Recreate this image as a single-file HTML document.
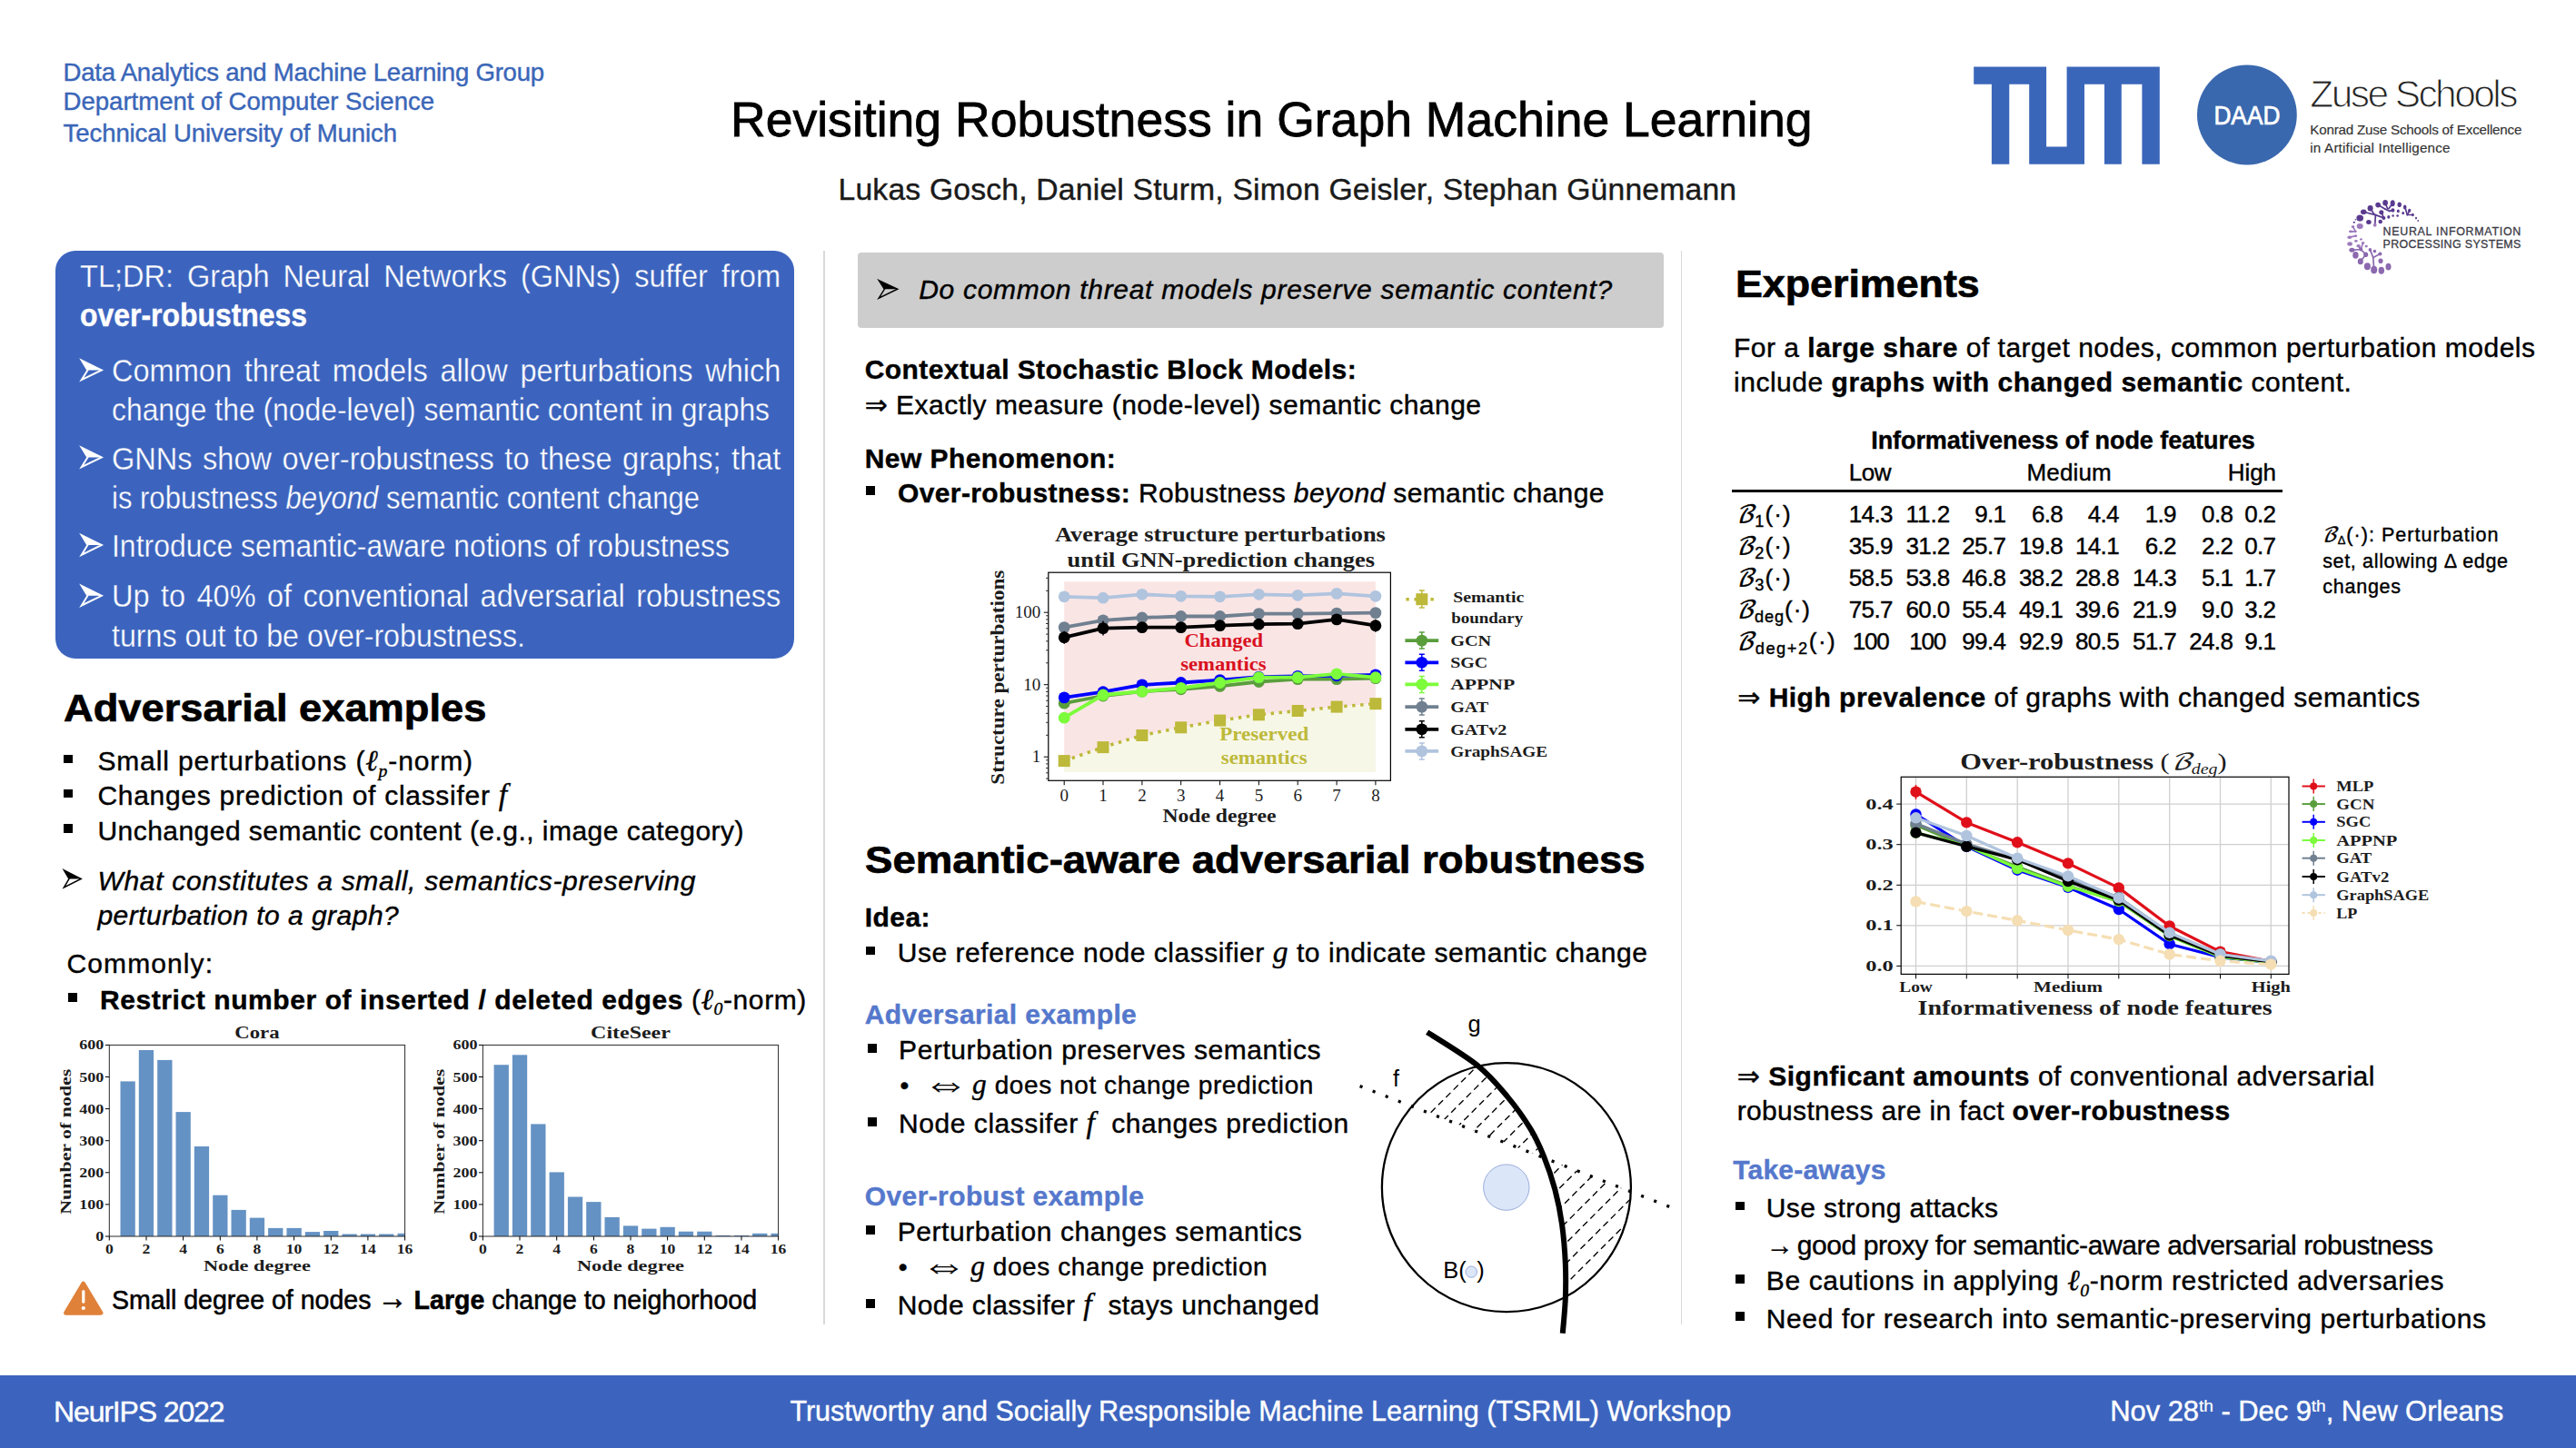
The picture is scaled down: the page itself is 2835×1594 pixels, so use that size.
<!DOCTYPE html>
<html lang="en"><head><meta charset="utf-8">
<title>Revisiting Robustness in Graph Machine Learning</title>
<style>
html,body{margin:0;padding:0;background:#fff}
body{width:2835px;height:1594px;position:relative;overflow:hidden;font-family:"Liberation Sans","DejaVu Sans",sans-serif;}
.t{position:absolute;white-space:nowrap;line-height:1;margin:0;padding:0;-webkit-text-stroke-width:0.4px}
.s{position:absolute}
sub,sup{line-height:0}
.m{font-family:"Liberation Serif","DejaVu Serif",serif;font-style:italic;font-weight:400}
.msub{font-size:66%;vertical-align:baseline;position:relative;top:0.33em}
.cal{font-family:'DejaVu Math TeX Gyre','DejaVu Serif',serif;font-style:italic}
.tsub{font-size:70%;vertical-align:baseline;position:relative;top:0.28em}
.ar{display:inline-block;transform:scale(1.8,1.5);margin:0 -0.03em 0 0.30em;position:relative;top:-0.07em;left:-0.26em;-webkit-text-stroke-width:0.1px}
.ar2{display:inline-block;transform:scale(1.15,1.25);margin:0 0.05em;position:relative;top:-0.1em}
.up{font-size:62%;vertical-align:baseline;position:relative;top:-0.52em;-webkit-text-stroke-width:0.2px}
svg{position:absolute;left:0;top:0}
svg text{font-family:"Liberation Serif","DejaVu Serif",serif;font-weight:700}
</style></head>
<body>
<div class="s" style="left:60.8px;top:276.2px;width:813.0px;height:448.4px;background:#3C64BE;border-radius:22px;"></div>
<div class="s" style="left:906.3px;top:276.2px;width:1.5px;height:1181.5px;background:#D9D9D9;"></div>
<div class="s" style="left:1849.6px;top:276.2px;width:1.5px;height:1181.5px;background:#D9D9D9;"></div>
<div class="s" style="left:0.0px;top:1513.5px;width:2835.0px;height:80.5px;background:#3C64BE;"></div>
<div class="s" style="left:70.0px;top:830.6px;width:9.8px;height:9.8px;background:#000;"></div>
<div class="s" style="left:70.0px;top:868.6px;width:9.8px;height:9.8px;background:#000;"></div>
<div class="s" style="left:70.0px;top:907.2px;width:9.8px;height:9.8px;background:#000;"></div>
<div class="s" style="left:74.9px;top:1093.1px;width:9.8px;height:9.8px;background:#000;"></div>
<div class="s" style="left:944.0px;top:278.2px;width:887.1px;height:82.4px;background:#CDCDCD;border-radius:4px;"></div>
<div class="s" style="left:953.4px;top:535.4px;width:9.8px;height:9.8px;background:#000;"></div>
<div class="s" style="left:953.4px;top:1041.7px;width:9.8px;height:9.8px;background:#000;"></div>
<div class="s" style="left:955.0px;top:1149.0px;width:9.8px;height:9.8px;background:#000;"></div>
<div class="s" style="left:955.0px;top:1230.0px;width:9.8px;height:9.8px;background:#000;"></div>
<div class="s" style="left:953.4px;top:1348.9px;width:9.8px;height:9.8px;background:#000;"></div>
<div class="s" style="left:953.4px;top:1429.9px;width:9.8px;height:9.8px;background:#000;"></div>
<div class="s" style="left:1910.0px;top:1322.6px;width:9.8px;height:9.8px;background:#000;"></div>
<div class="s" style="left:1910.0px;top:1403.0px;width:9.8px;height:9.8px;background:#000;"></div>
<div class="s" style="left:1910.0px;top:1444.1px;width:9.8px;height:9.8px;background:#000;"></div>
<div class="s" style="left:1905.6px;top:539.4px;width:606.4px;height:2.2px;background:#000;"></div>
<svg width="2835" height="1594" viewBox="0 0 2835 1594">
<path d="M89.8 396.6 L111.8 407.4 L89.8 418.1 L96.4 407.4 Z" fill="none" stroke="#fff" stroke-width="2.0" stroke-linejoin="miter"/>
<path d="M89.8 396.6 L111.8 407.4 L96.4 407.4 Z" fill="#fff"/>
<path d="M89.8 492.6 L111.8 503.4 L89.8 514.1 L96.4 503.4 Z" fill="none" stroke="#fff" stroke-width="2.0" stroke-linejoin="miter"/>
<path d="M89.8 492.6 L111.8 503.4 L96.4 503.4 Z" fill="#fff"/>
<path d="M89.8 589.2 L111.8 600.0 L89.8 610.8 L96.4 600.0 Z" fill="none" stroke="#fff" stroke-width="2.0" stroke-linejoin="miter"/>
<path d="M89.8 589.2 L111.8 600.0 L96.4 600.0 Z" fill="#fff"/>
<path d="M89.8 645.0 L111.8 655.8 L89.8 666.5 L96.4 655.8 Z" fill="none" stroke="#fff" stroke-width="2.0" stroke-linejoin="miter"/>
<path d="M89.8 645.0 L111.8 655.8 L96.4 655.8 Z" fill="#fff"/>
<path d="M70.4 957.9 L89.2 967.4 L70.4 976.9 L76.0 967.4 Z" fill="none" stroke="#000" stroke-width="1.5" stroke-linejoin="miter"/>
<path d="M70.4 957.9 L89.2 967.4 L76.0 967.4 Z" fill="#000"/>
<path d="M91.7 1413.2 L110.9 1445.2 L72.6 1445.2 Z" fill="#E0813A" stroke="#E0813A" stroke-width="5" stroke-linejoin="round"/>
<rect x="90.2" y="1420.2" width="3.2" height="14.5" rx="1.4" fill="#fff"/><circle cx="91.8" cy="1440" r="2.1" fill="#fff"/>
<path d="M967.2 308.6 L987.7 318.3 L967.2 328.1 L973.4 318.3 Z" fill="none" stroke="#000" stroke-width="1.5" stroke-linejoin="miter"/>
<path d="M967.2 308.6 L987.7 318.3 L973.4 318.3 Z" fill="#000"/>
<clipPath id="cp120"><rect x="120.3" y="1150.4" width="325.3" height="210.6"/></clipPath>
<g clip-path="url(#cp120)" fill="#6592C4">
<rect x="132.5" y="1190.4" width="16.3" height="170.6"/>
<rect x="152.8" y="1156.0" width="16.3" height="205.0"/>
<rect x="173.2" y="1166.9" width="16.3" height="194.1"/>
<rect x="193.5" y="1224.1" width="16.3" height="136.9"/>
<rect x="213.8" y="1262.0" width="16.3" height="99.0"/>
<rect x="234.2" y="1315.7" width="16.3" height="45.3"/>
<rect x="254.5" y="1331.9" width="16.3" height="29.1"/>
<rect x="274.8" y="1340.6" width="16.3" height="20.4"/>
<rect x="295.1" y="1351.9" width="16.3" height="9.1"/>
<rect x="315.5" y="1351.9" width="16.3" height="9.1"/>
<rect x="335.8" y="1356.1" width="16.3" height="4.9"/>
<rect x="356.1" y="1355.0" width="16.3" height="6.0"/>
<rect x="376.5" y="1358.5" width="16.3" height="2.5"/>
<rect x="396.8" y="1358.5" width="16.3" height="2.5"/>
<rect x="417.1" y="1358.5" width="16.3" height="2.5"/>
<rect x="437.5" y="1357.8" width="16.3" height="3.2"/>
</g>
<rect x="120.3" y="1150.4" width="325.3" height="210.6" fill="none" stroke="#2a2a2a" stroke-width="1"/>
<line x1="120.3" y1="1361.0" x2="120.3" y2="1365.5" stroke="#000" stroke-width="1"/>
<text x="120.3" y="1379.5" font-size="14.5" text-anchor="middle" fill="#1c1c1c" textLength="8.8" lengthAdjust="spacingAndGlyphs">0</text>
<line x1="161.0" y1="1361.0" x2="161.0" y2="1365.5" stroke="#000" stroke-width="1"/>
<text x="161.0" y="1379.5" font-size="14.5" text-anchor="middle" fill="#1c1c1c" textLength="8.8" lengthAdjust="spacingAndGlyphs">2</text>
<line x1="201.6" y1="1361.0" x2="201.6" y2="1365.5" stroke="#000" stroke-width="1"/>
<text x="201.6" y="1379.5" font-size="14.5" text-anchor="middle" fill="#1c1c1c" textLength="8.8" lengthAdjust="spacingAndGlyphs">4</text>
<line x1="242.3" y1="1361.0" x2="242.3" y2="1365.5" stroke="#000" stroke-width="1"/>
<text x="242.3" y="1379.5" font-size="14.5" text-anchor="middle" fill="#1c1c1c" textLength="8.8" lengthAdjust="spacingAndGlyphs">6</text>
<line x1="282.9" y1="1361.0" x2="282.9" y2="1365.5" stroke="#000" stroke-width="1"/>
<text x="282.9" y="1379.5" font-size="14.5" text-anchor="middle" fill="#1c1c1c" textLength="8.8" lengthAdjust="spacingAndGlyphs">8</text>
<line x1="323.6" y1="1361.0" x2="323.6" y2="1365.5" stroke="#000" stroke-width="1"/>
<text x="323.6" y="1379.5" font-size="14.5" text-anchor="middle" fill="#1c1c1c" textLength="17.6" lengthAdjust="spacingAndGlyphs">10</text>
<line x1="364.3" y1="1361.0" x2="364.3" y2="1365.5" stroke="#000" stroke-width="1"/>
<text x="364.3" y="1379.5" font-size="14.5" text-anchor="middle" fill="#1c1c1c" textLength="17.6" lengthAdjust="spacingAndGlyphs">12</text>
<line x1="404.9" y1="1361.0" x2="404.9" y2="1365.5" stroke="#000" stroke-width="1"/>
<text x="404.9" y="1379.5" font-size="14.5" text-anchor="middle" fill="#1c1c1c" textLength="17.6" lengthAdjust="spacingAndGlyphs">14</text>
<line x1="445.6" y1="1361.0" x2="445.6" y2="1365.5" stroke="#000" stroke-width="1"/>
<text x="445.6" y="1379.5" font-size="14.5" text-anchor="middle" fill="#1c1c1c" textLength="17.6" lengthAdjust="spacingAndGlyphs">16</text>
<line x1="115.8" y1="1361.0" x2="120.3" y2="1361.0" stroke="#000" stroke-width="1"/>
<text x="114.3" y="1366.0" font-size="14.5" text-anchor="end" fill="#1c1c1c" textLength="9.0" lengthAdjust="spacingAndGlyphs">0</text>
<line x1="115.8" y1="1325.9" x2="120.3" y2="1325.9" stroke="#000" stroke-width="1"/>
<text x="114.3" y="1330.9" font-size="14.5" text-anchor="end" fill="#1c1c1c" textLength="27.0" lengthAdjust="spacingAndGlyphs">100</text>
<line x1="115.8" y1="1290.8" x2="120.3" y2="1290.8" stroke="#000" stroke-width="1"/>
<text x="114.3" y="1295.8" font-size="14.5" text-anchor="end" fill="#1c1c1c" textLength="27.0" lengthAdjust="spacingAndGlyphs">200</text>
<line x1="115.8" y1="1255.7" x2="120.3" y2="1255.7" stroke="#000" stroke-width="1"/>
<text x="114.3" y="1260.7" font-size="14.5" text-anchor="end" fill="#1c1c1c" textLength="27.0" lengthAdjust="spacingAndGlyphs">300</text>
<line x1="115.8" y1="1220.6" x2="120.3" y2="1220.6" stroke="#000" stroke-width="1"/>
<text x="114.3" y="1225.6" font-size="14.5" text-anchor="end" fill="#1c1c1c" textLength="27.0" lengthAdjust="spacingAndGlyphs">400</text>
<line x1="115.8" y1="1185.5" x2="120.3" y2="1185.5" stroke="#000" stroke-width="1"/>
<text x="114.3" y="1190.5" font-size="14.5" text-anchor="end" fill="#1c1c1c" textLength="27.0" lengthAdjust="spacingAndGlyphs">500</text>
<line x1="115.8" y1="1150.4" x2="120.3" y2="1150.4" stroke="#000" stroke-width="1"/>
<text x="114.3" y="1155.4" font-size="14.5" text-anchor="end" fill="#1c1c1c" textLength="27.0" lengthAdjust="spacingAndGlyphs">600</text>
<text x="282.9" y="1142.5" font-size="18.5" text-anchor="middle" fill="#1c1c1c" textLength="49.4" lengthAdjust="spacingAndGlyphs">Cora</text>
<text x="282.9" y="1399.3" font-size="17.5" text-anchor="middle" fill="#1c1c1c" textLength="118" lengthAdjust="spacingAndGlyphs">Node degree</text>
<text transform="translate(77.5 1256.7) rotate(-90)" font-size="17.5" text-anchor="middle" fill="#1c1c1c" textLength="160" lengthAdjust="spacingAndGlyphs">Number of nodes</text>
<clipPath id="cp531"><rect x="531.4" y="1150.4" width="325.2" height="210.6"/></clipPath>
<g clip-path="url(#cp531)" fill="#6592C4">
<rect x="543.6" y="1172.2" width="16.3" height="188.8"/>
<rect x="563.9" y="1161.3" width="16.3" height="199.7"/>
<rect x="584.2" y="1237.4" width="16.3" height="123.6"/>
<rect x="604.6" y="1290.4" width="16.3" height="70.6"/>
<rect x="624.9" y="1317.5" width="16.3" height="43.5"/>
<rect x="645.2" y="1323.1" width="16.3" height="37.9"/>
<rect x="665.5" y="1339.9" width="16.3" height="21.1"/>
<rect x="685.9" y="1349.4" width="16.3" height="11.6"/>
<rect x="706.2" y="1352.6" width="16.3" height="8.4"/>
<rect x="726.5" y="1350.8" width="16.3" height="10.2"/>
<rect x="746.8" y="1355.7" width="16.3" height="5.3"/>
<rect x="767.2" y="1355.7" width="16.3" height="5.3"/>
<rect x="787.5" y="1359.9" width="16.3" height="1.1"/>
<rect x="807.8" y="1359.9" width="16.3" height="1.1"/>
<rect x="828.1" y="1357.8" width="16.3" height="3.2"/>
<rect x="848.5" y="1357.8" width="16.3" height="3.2"/>
</g>
<rect x="531.4" y="1150.4" width="325.2" height="210.6" fill="none" stroke="#2a2a2a" stroke-width="1"/>
<line x1="531.4" y1="1361.0" x2="531.4" y2="1365.5" stroke="#000" stroke-width="1"/>
<text x="531.4" y="1379.5" font-size="14.5" text-anchor="middle" fill="#1c1c1c" textLength="8.8" lengthAdjust="spacingAndGlyphs">0</text>
<line x1="572.0" y1="1361.0" x2="572.0" y2="1365.5" stroke="#000" stroke-width="1"/>
<text x="572.0" y="1379.5" font-size="14.5" text-anchor="middle" fill="#1c1c1c" textLength="8.8" lengthAdjust="spacingAndGlyphs">2</text>
<line x1="612.7" y1="1361.0" x2="612.7" y2="1365.5" stroke="#000" stroke-width="1"/>
<text x="612.7" y="1379.5" font-size="14.5" text-anchor="middle" fill="#1c1c1c" textLength="8.8" lengthAdjust="spacingAndGlyphs">4</text>
<line x1="653.4" y1="1361.0" x2="653.4" y2="1365.5" stroke="#000" stroke-width="1"/>
<text x="653.4" y="1379.5" font-size="14.5" text-anchor="middle" fill="#1c1c1c" textLength="8.8" lengthAdjust="spacingAndGlyphs">6</text>
<line x1="694.0" y1="1361.0" x2="694.0" y2="1365.5" stroke="#000" stroke-width="1"/>
<text x="694.0" y="1379.5" font-size="14.5" text-anchor="middle" fill="#1c1c1c" textLength="8.8" lengthAdjust="spacingAndGlyphs">8</text>
<line x1="734.6" y1="1361.0" x2="734.6" y2="1365.5" stroke="#000" stroke-width="1"/>
<text x="734.6" y="1379.5" font-size="14.5" text-anchor="middle" fill="#1c1c1c" textLength="17.6" lengthAdjust="spacingAndGlyphs">10</text>
<line x1="775.3" y1="1361.0" x2="775.3" y2="1365.5" stroke="#000" stroke-width="1"/>
<text x="775.3" y="1379.5" font-size="14.5" text-anchor="middle" fill="#1c1c1c" textLength="17.6" lengthAdjust="spacingAndGlyphs">12</text>
<line x1="816.0" y1="1361.0" x2="816.0" y2="1365.5" stroke="#000" stroke-width="1"/>
<text x="816.0" y="1379.5" font-size="14.5" text-anchor="middle" fill="#1c1c1c" textLength="17.6" lengthAdjust="spacingAndGlyphs">14</text>
<line x1="856.6" y1="1361.0" x2="856.6" y2="1365.5" stroke="#000" stroke-width="1"/>
<text x="856.6" y="1379.5" font-size="14.5" text-anchor="middle" fill="#1c1c1c" textLength="17.6" lengthAdjust="spacingAndGlyphs">16</text>
<line x1="526.9" y1="1361.0" x2="531.4" y2="1361.0" stroke="#000" stroke-width="1"/>
<text x="525.4" y="1366.0" font-size="14.5" text-anchor="end" fill="#1c1c1c" textLength="9.0" lengthAdjust="spacingAndGlyphs">0</text>
<line x1="526.9" y1="1325.9" x2="531.4" y2="1325.9" stroke="#000" stroke-width="1"/>
<text x="525.4" y="1330.9" font-size="14.5" text-anchor="end" fill="#1c1c1c" textLength="27.0" lengthAdjust="spacingAndGlyphs">100</text>
<line x1="526.9" y1="1290.8" x2="531.4" y2="1290.8" stroke="#000" stroke-width="1"/>
<text x="525.4" y="1295.8" font-size="14.5" text-anchor="end" fill="#1c1c1c" textLength="27.0" lengthAdjust="spacingAndGlyphs">200</text>
<line x1="526.9" y1="1255.7" x2="531.4" y2="1255.7" stroke="#000" stroke-width="1"/>
<text x="525.4" y="1260.7" font-size="14.5" text-anchor="end" fill="#1c1c1c" textLength="27.0" lengthAdjust="spacingAndGlyphs">300</text>
<line x1="526.9" y1="1220.6" x2="531.4" y2="1220.6" stroke="#000" stroke-width="1"/>
<text x="525.4" y="1225.6" font-size="14.5" text-anchor="end" fill="#1c1c1c" textLength="27.0" lengthAdjust="spacingAndGlyphs">400</text>
<line x1="526.9" y1="1185.5" x2="531.4" y2="1185.5" stroke="#000" stroke-width="1"/>
<text x="525.4" y="1190.5" font-size="14.5" text-anchor="end" fill="#1c1c1c" textLength="27.0" lengthAdjust="spacingAndGlyphs">500</text>
<line x1="526.9" y1="1150.4" x2="531.4" y2="1150.4" stroke="#000" stroke-width="1"/>
<text x="525.4" y="1155.4" font-size="14.5" text-anchor="end" fill="#1c1c1c" textLength="27.0" lengthAdjust="spacingAndGlyphs">600</text>
<text x="694.0" y="1142.5" font-size="18.5" text-anchor="middle" fill="#1c1c1c" textLength="87.8" lengthAdjust="spacingAndGlyphs">CiteSeer</text>
<text x="694.0" y="1399.3" font-size="17.5" text-anchor="middle" fill="#1c1c1c" textLength="118" lengthAdjust="spacingAndGlyphs">Node degree</text>
<text transform="translate(488.5 1256.7) rotate(-90)" font-size="17.5" text-anchor="middle" fill="#1c1c1c" textLength="160" lengthAdjust="spacingAndGlyphs">Number of nodes</text>
<polygon points="1171.2,640.3 1513.9,640.3 1513.9,774.7 1471.1,778.1 1428.2,782.5 1385.4,786.8 1342.6,793.1 1299.7,800.8 1256.9,809.5 1214.0,822.6 1171.2,837.6" fill="#FAE5E5"/>
<polygon points="1171.2,850.1 1513.9,850.1 1513.9,774.7 1471.1,778.1 1428.2,782.5 1385.4,786.8 1342.6,793.1 1299.7,800.8 1256.9,809.5 1214.0,822.6 1171.2,837.6" fill="#F7F7E7"/>
<polyline points="1171.2,837.6 1214.0,822.6 1256.9,809.5 1299.7,800.8 1342.6,793.1 1385.4,786.8 1428.2,782.5 1471.1,778.1 1513.9,774.7" fill="none" stroke="#BDB93A" stroke-width="3.6" stroke-dasharray="3.4 5.6"/>
<rect x="1164.7" y="831.1" width="13" height="13" fill="#BDB93A"/>
<rect x="1207.5" y="816.1" width="13" height="13" fill="#BDB93A"/>
<rect x="1250.4" y="803.0" width="13" height="13" fill="#BDB93A"/>
<rect x="1293.2" y="794.3" width="13" height="13" fill="#BDB93A"/>
<rect x="1336.1" y="786.6" width="13" height="13" fill="#BDB93A"/>
<rect x="1378.9" y="780.3" width="13" height="13" fill="#BDB93A"/>
<rect x="1421.7" y="776.0" width="13" height="13" fill="#BDB93A"/>
<rect x="1464.6" y="771.6" width="13" height="13" fill="#BDB93A"/>
<rect x="1507.4" y="768.2" width="13" height="13" fill="#BDB93A"/>
<text x="1346.8" y="712.4" font-size="21" text-anchor="middle" fill="#D9111F" textLength="86.5" lengthAdjust="spacingAndGlyphs">Changed</text>
<text x="1346.4" y="738.0" font-size="21" text-anchor="middle" fill="#D9111F" textLength="94.4" lengthAdjust="spacingAndGlyphs">semantics</text>
<text x="1391.2" y="815.3" font-size="21" text-anchor="middle" fill="#BDB93A" textLength="98" lengthAdjust="spacingAndGlyphs">Preserved</text>
<text x="1391.2" y="841.0" font-size="21" text-anchor="middle" fill="#BDB93A" textLength="94.7" lengthAdjust="spacingAndGlyphs">semantics</text>
<polyline points="1171.2,656.8 1214.0,658.2 1256.9,654.3 1299.7,656.3 1342.6,656.8 1385.4,654.3 1428.2,655.3 1471.1,653.4 1513.9,656.3" fill="none" stroke="#B0C4DE" stroke-width="3.8" stroke-linejoin="round"/>
<circle cx="1171.2" cy="656.8" r="6.4" fill="#B0C4DE"/>
<circle cx="1214.0" cy="658.2" r="6.4" fill="#B0C4DE"/>
<circle cx="1256.9" cy="654.3" r="6.4" fill="#B0C4DE"/>
<circle cx="1299.7" cy="656.3" r="6.4" fill="#B0C4DE"/>
<circle cx="1342.6" cy="656.8" r="6.4" fill="#B0C4DE"/>
<circle cx="1385.4" cy="654.3" r="6.4" fill="#B0C4DE"/>
<circle cx="1428.2" cy="655.3" r="6.4" fill="#B0C4DE"/>
<circle cx="1471.1" cy="653.4" r="6.4" fill="#B0C4DE"/>
<circle cx="1513.9" cy="656.3" r="6.4" fill="#B0C4DE"/>
<polyline points="1171.2,690.6 1214.0,682.9 1256.9,680.0 1299.7,678.5 1342.6,678.5 1385.4,675.6 1428.2,675.6 1471.1,675.1 1513.9,674.6" fill="none" stroke="#708090" stroke-width="3.8" stroke-linejoin="round"/>
<circle cx="1171.2" cy="690.6" r="6.4" fill="#708090"/>
<circle cx="1214.0" cy="682.9" r="6.4" fill="#708090"/>
<circle cx="1256.9" cy="680.0" r="6.4" fill="#708090"/>
<circle cx="1299.7" cy="678.5" r="6.4" fill="#708090"/>
<circle cx="1342.6" cy="678.5" r="6.4" fill="#708090"/>
<circle cx="1385.4" cy="675.6" r="6.4" fill="#708090"/>
<circle cx="1428.2" cy="675.6" r="6.4" fill="#708090"/>
<circle cx="1471.1" cy="675.1" r="6.4" fill="#708090"/>
<circle cx="1513.9" cy="674.6" r="6.4" fill="#708090"/>
<polyline points="1171.2,701.7 1214.0,691.6 1256.9,690.6 1299.7,690.6 1342.6,688.7 1385.4,687.2 1428.2,686.7 1471.1,681.9 1513.9,688.7" fill="none" stroke="#000000" stroke-width="3.8" stroke-linejoin="round"/>
<circle cx="1171.2" cy="701.7" r="6.4" fill="#000000"/>
<circle cx="1214.0" cy="691.6" r="6.4" fill="#000000"/>
<circle cx="1256.9" cy="690.6" r="6.4" fill="#000000"/>
<circle cx="1299.7" cy="690.6" r="6.4" fill="#000000"/>
<circle cx="1342.6" cy="688.7" r="6.4" fill="#000000"/>
<circle cx="1385.4" cy="687.2" r="6.4" fill="#000000"/>
<circle cx="1428.2" cy="686.7" r="6.4" fill="#000000"/>
<circle cx="1471.1" cy="681.9" r="6.4" fill="#000000"/>
<circle cx="1513.9" cy="688.7" r="6.4" fill="#000000"/>
<polyline points="1171.2,774.2 1214.0,766.0 1256.9,761.2 1299.7,758.8 1342.6,755.4 1385.4,750.5 1428.2,747.6 1471.1,747.6 1513.9,746.7" fill="none" stroke="#5A9E3C" stroke-width="3.8" stroke-linejoin="round"/>
<circle cx="1171.2" cy="774.2" r="6.4" fill="#5A9E3C"/>
<circle cx="1214.0" cy="766.0" r="6.4" fill="#5A9E3C"/>
<circle cx="1256.9" cy="761.2" r="6.4" fill="#5A9E3C"/>
<circle cx="1299.7" cy="758.8" r="6.4" fill="#5A9E3C"/>
<circle cx="1342.6" cy="755.4" r="6.4" fill="#5A9E3C"/>
<circle cx="1385.4" cy="750.5" r="6.4" fill="#5A9E3C"/>
<circle cx="1428.2" cy="747.6" r="6.4" fill="#5A9E3C"/>
<circle cx="1471.1" cy="747.6" r="6.4" fill="#5A9E3C"/>
<circle cx="1513.9" cy="746.7" r="6.4" fill="#5A9E3C"/>
<polyline points="1171.2,767.9 1214.0,761.7 1256.9,753.9 1299.7,751.5 1342.6,748.6 1385.4,745.2 1428.2,744.3 1471.1,743.8 1513.9,742.8" fill="none" stroke="#0000FF" stroke-width="3.8" stroke-linejoin="round"/>
<circle cx="1171.2" cy="767.9" r="6.4" fill="#0000FF"/>
<circle cx="1214.0" cy="761.7" r="6.4" fill="#0000FF"/>
<circle cx="1256.9" cy="753.9" r="6.4" fill="#0000FF"/>
<circle cx="1299.7" cy="751.5" r="6.4" fill="#0000FF"/>
<circle cx="1342.6" cy="748.6" r="6.4" fill="#0000FF"/>
<circle cx="1385.4" cy="745.2" r="6.4" fill="#0000FF"/>
<circle cx="1428.2" cy="744.3" r="6.4" fill="#0000FF"/>
<circle cx="1471.1" cy="743.8" r="6.4" fill="#0000FF"/>
<circle cx="1513.9" cy="742.8" r="6.4" fill="#0000FF"/>
<polyline points="1171.2,790.2 1214.0,765.0 1256.9,761.2 1299.7,757.3 1342.6,751.5 1385.4,745.7 1428.2,745.7 1471.1,741.8 1513.9,745.7" fill="none" stroke="#7CFC3A" stroke-width="3.8" stroke-linejoin="round"/>
<circle cx="1171.2" cy="790.2" r="6.4" fill="#7CFC3A"/>
<circle cx="1214.0" cy="765.0" r="6.4" fill="#7CFC3A"/>
<circle cx="1256.9" cy="761.2" r="6.4" fill="#7CFC3A"/>
<circle cx="1299.7" cy="757.3" r="6.4" fill="#7CFC3A"/>
<circle cx="1342.6" cy="751.5" r="6.4" fill="#7CFC3A"/>
<circle cx="1385.4" cy="745.7" r="6.4" fill="#7CFC3A"/>
<circle cx="1428.2" cy="745.7" r="6.4" fill="#7CFC3A"/>
<circle cx="1471.1" cy="741.8" r="6.4" fill="#7CFC3A"/>
<circle cx="1513.9" cy="745.7" r="6.4" fill="#7CFC3A"/>
<line x1="1171.2" y1="694.7" x2="1171.2" y2="708.7" stroke="#000" stroke-width="1.5"/>
<line x1="1214.0" y1="683.6" x2="1214.0" y2="699.6" stroke="#000" stroke-width="1.5"/>
<line x1="1471.1" y1="675.9" x2="1471.1" y2="687.9" stroke="#000" stroke-width="1.5"/>
<line x1="1513.9" y1="681.7" x2="1513.9" y2="695.7" stroke="#000" stroke-width="1.5"/>
<line x1="1428.2" y1="681.7" x2="1428.2" y2="691.7" stroke="#000" stroke-width="1.5"/>
<rect x="1153.8" y="630.2" width="376.6" height="229.1" fill="none" stroke="#000" stroke-width="1.2"/>
<line x1="1171.2" y1="859.3" x2="1171.2" y2="864.3" stroke="#000" stroke-width="1"/>
<text x="1171.2" y="882.0" font-size="19" text-anchor="middle" fill="#1c1c1c" style="font-weight:400">0</text>
<line x1="1214.0" y1="859.3" x2="1214.0" y2="864.3" stroke="#000" stroke-width="1"/>
<text x="1214.0" y="882.0" font-size="19" text-anchor="middle" fill="#1c1c1c" style="font-weight:400">1</text>
<line x1="1256.9" y1="859.3" x2="1256.9" y2="864.3" stroke="#000" stroke-width="1"/>
<text x="1256.9" y="882.0" font-size="19" text-anchor="middle" fill="#1c1c1c" style="font-weight:400">2</text>
<line x1="1299.7" y1="859.3" x2="1299.7" y2="864.3" stroke="#000" stroke-width="1"/>
<text x="1299.7" y="882.0" font-size="19" text-anchor="middle" fill="#1c1c1c" style="font-weight:400">3</text>
<line x1="1342.6" y1="859.3" x2="1342.6" y2="864.3" stroke="#000" stroke-width="1"/>
<text x="1342.6" y="882.0" font-size="19" text-anchor="middle" fill="#1c1c1c" style="font-weight:400">4</text>
<line x1="1385.4" y1="859.3" x2="1385.4" y2="864.3" stroke="#000" stroke-width="1"/>
<text x="1385.4" y="882.0" font-size="19" text-anchor="middle" fill="#1c1c1c" style="font-weight:400">5</text>
<line x1="1428.2" y1="859.3" x2="1428.2" y2="864.3" stroke="#000" stroke-width="1"/>
<text x="1428.2" y="882.0" font-size="19" text-anchor="middle" fill="#1c1c1c" style="font-weight:400">6</text>
<line x1="1471.1" y1="859.3" x2="1471.1" y2="864.3" stroke="#000" stroke-width="1"/>
<text x="1471.1" y="882.0" font-size="19" text-anchor="middle" fill="#1c1c1c" style="font-weight:400">7</text>
<line x1="1513.9" y1="859.3" x2="1513.9" y2="864.3" stroke="#000" stroke-width="1"/>
<text x="1513.9" y="882.0" font-size="19" text-anchor="middle" fill="#1c1c1c" style="font-weight:400">8</text>
<line x1="1148.8" y1="833.2" x2="1153.8" y2="833.2" stroke="#000" stroke-width="1"/>
<text x="1145.3" y="839.4" font-size="19" text-anchor="end" fill="#1c1c1c" style="font-weight:400">1</text>
<line x1="1148.8" y1="753.7" x2="1153.8" y2="753.7" stroke="#000" stroke-width="1"/>
<text x="1145.3" y="759.9" font-size="19" text-anchor="end" fill="#1c1c1c" style="font-weight:400">10</text>
<line x1="1148.8" y1="674.2" x2="1153.8" y2="674.2" stroke="#000" stroke-width="1"/>
<text x="1145.3" y="680.4" font-size="19" text-anchor="end" fill="#1c1c1c" style="font-weight:400">100</text>
<line x1="1151.0" y1="857.1" x2="1153.8" y2="857.1" stroke="#000" stroke-width="0.8"/>
<line x1="1151.0" y1="850.8" x2="1153.8" y2="850.8" stroke="#000" stroke-width="0.8"/>
<line x1="1151.0" y1="845.5" x2="1153.8" y2="845.5" stroke="#000" stroke-width="0.8"/>
<line x1="1151.0" y1="840.9" x2="1153.8" y2="840.9" stroke="#000" stroke-width="0.8"/>
<line x1="1151.0" y1="836.8" x2="1153.8" y2="836.8" stroke="#000" stroke-width="0.8"/>
<line x1="1151.0" y1="809.3" x2="1153.8" y2="809.3" stroke="#000" stroke-width="0.8"/>
<line x1="1151.0" y1="795.3" x2="1153.8" y2="795.3" stroke="#000" stroke-width="0.8"/>
<line x1="1151.0" y1="785.3" x2="1153.8" y2="785.3" stroke="#000" stroke-width="0.8"/>
<line x1="1151.0" y1="777.6" x2="1153.8" y2="777.6" stroke="#000" stroke-width="0.8"/>
<line x1="1151.0" y1="771.3" x2="1153.8" y2="771.3" stroke="#000" stroke-width="0.8"/>
<line x1="1151.0" y1="766.0" x2="1153.8" y2="766.0" stroke="#000" stroke-width="0.8"/>
<line x1="1151.0" y1="761.4" x2="1153.8" y2="761.4" stroke="#000" stroke-width="0.8"/>
<line x1="1151.0" y1="757.3" x2="1153.8" y2="757.3" stroke="#000" stroke-width="0.8"/>
<line x1="1151.0" y1="729.8" x2="1153.8" y2="729.8" stroke="#000" stroke-width="0.8"/>
<line x1="1151.0" y1="715.8" x2="1153.8" y2="715.8" stroke="#000" stroke-width="0.8"/>
<line x1="1151.0" y1="705.8" x2="1153.8" y2="705.8" stroke="#000" stroke-width="0.8"/>
<line x1="1151.0" y1="698.1" x2="1153.8" y2="698.1" stroke="#000" stroke-width="0.8"/>
<line x1="1151.0" y1="691.8" x2="1153.8" y2="691.8" stroke="#000" stroke-width="0.8"/>
<line x1="1151.0" y1="686.5" x2="1153.8" y2="686.5" stroke="#000" stroke-width="0.8"/>
<line x1="1151.0" y1="681.9" x2="1153.8" y2="681.9" stroke="#000" stroke-width="0.8"/>
<line x1="1151.0" y1="677.8" x2="1153.8" y2="677.8" stroke="#000" stroke-width="0.8"/>
<line x1="1151.0" y1="650.3" x2="1153.8" y2="650.3" stroke="#000" stroke-width="0.8"/>
<line x1="1151.0" y1="636.3" x2="1153.8" y2="636.3" stroke="#000" stroke-width="0.8"/>
<text x="1342.9" y="596.3" font-size="22.5" text-anchor="middle" fill="#1c1c1c" textLength="364" lengthAdjust="spacingAndGlyphs">Average structure perturbations</text>
<text x="1343.8" y="624.4" font-size="22.5" text-anchor="middle" fill="#1c1c1c" textLength="338.5" lengthAdjust="spacingAndGlyphs">until GNN-prediction changes</text>
<text x="1341.9" y="904.8" font-size="21" text-anchor="middle" fill="#1c1c1c" textLength="125" lengthAdjust="spacingAndGlyphs">Node degree</text>
<text transform="translate(1104.5 745.7) rotate(-90)" font-size="21" text-anchor="middle" fill="#1c1c1c" textLength="236" lengthAdjust="spacingAndGlyphs">Structure perturbations</text>
<line x1="1547.4" y1="659.7" x2="1583.2" y2="659.7" stroke="#BDB93A" stroke-width="3.6" stroke-dasharray="3.4 5.6"/>
<rect x="1558.3" y="653.2" width="13" height="13" fill="#BDB93A"/>
<path d="M1564.8 650 v19 M1561.8 650 h6 M1561.8 669 h6" stroke="#BDB93A" stroke-width="1.5"/>
<text x="1599.2" y="663.2" font-size="17" text-anchor="start" fill="#1c1c1c" textLength="78" lengthAdjust="spacingAndGlyphs">Semantic</text>
<text x="1597.2" y="685.6" font-size="17" text-anchor="start" fill="#1c1c1c" textLength="79" lengthAdjust="spacingAndGlyphs">boundary</text>
<line x1="1546.4" y1="705.1" x2="1583.2" y2="705.1" stroke="#5A9E3C" stroke-width="3.8"/>
<path d="M1561.8 696.1 h6 M1561.8 714.1 h6" stroke="#5A9E3C" stroke-width="1.5"/>
<line x1="1564.8" y1="696.1" x2="1564.8" y2="714.1" stroke="#5A9E3C" stroke-width="1.5"/>
<circle cx="1564.8" cy="705.1" r="6.4" fill="#5A9E3C"/>
<text x="1596.2" y="710.9" font-size="17" text-anchor="start" fill="#1c1c1c" textLength="45" lengthAdjust="spacingAndGlyphs">GCN</text>
<line x1="1546.4" y1="729.3" x2="1583.2" y2="729.3" stroke="#0000FF" stroke-width="3.8"/>
<path d="M1561.8 720.3 h6 M1561.8 738.3 h6" stroke="#0000FF" stroke-width="1.5"/>
<line x1="1564.8" y1="720.3" x2="1564.8" y2="738.3" stroke="#0000FF" stroke-width="1.5"/>
<circle cx="1564.8" cy="729.3" r="6.4" fill="#0000FF"/>
<text x="1596.2" y="735.1" font-size="17" text-anchor="start" fill="#1c1c1c" textLength="41" lengthAdjust="spacingAndGlyphs">SGC</text>
<line x1="1546.4" y1="753.4" x2="1583.2" y2="753.4" stroke="#7CFC3A" stroke-width="3.8"/>
<path d="M1561.8 744.4 h6 M1561.8 762.4 h6" stroke="#7CFC3A" stroke-width="1.5"/>
<line x1="1564.8" y1="744.4" x2="1564.8" y2="762.4" stroke="#7CFC3A" stroke-width="1.5"/>
<circle cx="1564.8" cy="753.4" r="6.4" fill="#7CFC3A"/>
<text x="1596.2" y="759.2" font-size="17" text-anchor="start" fill="#1c1c1c" textLength="71" lengthAdjust="spacingAndGlyphs">APPNP</text>
<line x1="1546.4" y1="778.1" x2="1583.2" y2="778.1" stroke="#708090" stroke-width="3.8"/>
<path d="M1561.8 769.1 h6 M1561.8 787.1 h6" stroke="#708090" stroke-width="1.5"/>
<line x1="1564.8" y1="769.1" x2="1564.8" y2="787.1" stroke="#708090" stroke-width="1.5"/>
<circle cx="1564.8" cy="778.1" r="6.4" fill="#708090"/>
<text x="1596.2" y="783.9" font-size="17" text-anchor="start" fill="#1c1c1c" textLength="42" lengthAdjust="spacingAndGlyphs">GAT</text>
<line x1="1546.4" y1="802.8" x2="1583.2" y2="802.8" stroke="#000000" stroke-width="3.8"/>
<path d="M1561.8 793.8 h6 M1561.8 811.8 h6" stroke="#000000" stroke-width="1.5"/>
<line x1="1564.8" y1="793.8" x2="1564.8" y2="811.8" stroke="#000000" stroke-width="1.5"/>
<circle cx="1564.8" cy="802.8" r="6.4" fill="#000000"/>
<text x="1596.2" y="808.6" font-size="17" text-anchor="start" fill="#1c1c1c" textLength="62" lengthAdjust="spacingAndGlyphs">GATv2</text>
<line x1="1546.4" y1="826.9" x2="1583.2" y2="826.9" stroke="#B0C4DE" stroke-width="3.8"/>
<path d="M1561.8 817.9 h6 M1561.8 835.9 h6" stroke="#B0C4DE" stroke-width="1.5"/>
<line x1="1564.8" y1="817.9" x2="1564.8" y2="835.9" stroke="#B0C4DE" stroke-width="1.5"/>
<circle cx="1564.8" cy="826.9" r="6.4" fill="#B0C4DE"/>
<text x="1596.2" y="832.7" font-size="17" text-anchor="start" fill="#1c1c1c" textLength="107" lengthAdjust="spacingAndGlyphs">GraphSAGE</text>
<line x1="2108.5" y1="855.3" x2="2108.5" y2="1072.4" stroke="#CFCFCF" stroke-width="1.3"/>
<line x1="2164.3" y1="855.3" x2="2164.3" y2="1072.4" stroke="#CFCFCF" stroke-width="1.3"/>
<line x1="2220.2" y1="855.3" x2="2220.2" y2="1072.4" stroke="#CFCFCF" stroke-width="1.3"/>
<line x1="2276.0" y1="855.3" x2="2276.0" y2="1072.4" stroke="#CFCFCF" stroke-width="1.3"/>
<line x1="2331.8" y1="855.3" x2="2331.8" y2="1072.4" stroke="#CFCFCF" stroke-width="1.3"/>
<line x1="2387.7" y1="855.3" x2="2387.7" y2="1072.4" stroke="#CFCFCF" stroke-width="1.3"/>
<line x1="2443.5" y1="855.3" x2="2443.5" y2="1072.4" stroke="#CFCFCF" stroke-width="1.3"/>
<line x1="2499.3" y1="855.3" x2="2499.3" y2="1072.4" stroke="#CFCFCF" stroke-width="1.3"/>
<line x1="2092.2" y1="1063.4" x2="2519.0" y2="1063.4" stroke="#CFCFCF" stroke-width="1.3"/>
<line x1="2092.2" y1="1018.8" x2="2519.0" y2="1018.8" stroke="#CFCFCF" stroke-width="1.3"/>
<line x1="2092.2" y1="974.3" x2="2519.0" y2="974.3" stroke="#CFCFCF" stroke-width="1.3"/>
<line x1="2092.2" y1="929.7" x2="2519.0" y2="929.7" stroke="#CFCFCF" stroke-width="1.3"/>
<line x1="2092.2" y1="885.1" x2="2519.0" y2="885.1" stroke="#CFCFCF" stroke-width="1.3"/>
<polyline points="2108.5,871.7 2164.3,905.4 2220.2,927.3 2276.0,950.4 2331.8,977.4 2387.7,1019.5 2443.5,1047.6 2499.3,1058.3" fill="none" stroke="#E0101A" stroke-width="3.2" stroke-linejoin="round"/>
<circle cx="2108.5" cy="871.7" r="6.2" fill="#E0101A"/>
<circle cx="2164.3" cy="905.4" r="6.2" fill="#E0101A"/>
<circle cx="2220.2" cy="927.3" r="6.2" fill="#E0101A"/>
<circle cx="2276.0" cy="950.4" r="6.2" fill="#E0101A"/>
<circle cx="2331.8" cy="977.4" r="6.2" fill="#E0101A"/>
<circle cx="2387.7" cy="1019.5" r="6.2" fill="#E0101A"/>
<circle cx="2443.5" cy="1047.6" r="6.2" fill="#E0101A"/>
<circle cx="2499.3" cy="1058.3" r="6.2" fill="#E0101A"/>
<polyline points="2108.5,908.2 2164.3,931.8 2220.2,954.3 2276.0,975.1 2331.8,992.5 2387.7,1030.2 2443.5,1053.3 2499.3,1059.5" fill="none" stroke="#5A9E3C" stroke-width="3.2" stroke-linejoin="round"/>
<circle cx="2108.5" cy="908.2" r="6.2" fill="#5A9E3C"/>
<circle cx="2164.3" cy="931.8" r="6.2" fill="#5A9E3C"/>
<circle cx="2220.2" cy="954.3" r="6.2" fill="#5A9E3C"/>
<circle cx="2276.0" cy="975.1" r="6.2" fill="#5A9E3C"/>
<circle cx="2331.8" cy="992.5" r="6.2" fill="#5A9E3C"/>
<circle cx="2387.7" cy="1030.2" r="6.2" fill="#5A9E3C"/>
<circle cx="2443.5" cy="1053.3" r="6.2" fill="#5A9E3C"/>
<circle cx="2499.3" cy="1059.5" r="6.2" fill="#5A9E3C"/>
<polyline points="2108.5,896.4 2164.3,931.8 2220.2,957.7 2276.0,976.8 2331.8,1001.0 2387.7,1039.2 2443.5,1053.8 2499.3,1059.5" fill="none" stroke="#0000FF" stroke-width="3.2" stroke-linejoin="round"/>
<circle cx="2108.5" cy="896.4" r="6.2" fill="#0000FF"/>
<circle cx="2164.3" cy="931.8" r="6.2" fill="#0000FF"/>
<circle cx="2220.2" cy="957.7" r="6.2" fill="#0000FF"/>
<circle cx="2276.0" cy="976.8" r="6.2" fill="#0000FF"/>
<circle cx="2331.8" cy="1001.0" r="6.2" fill="#0000FF"/>
<circle cx="2387.7" cy="1039.2" r="6.2" fill="#0000FF"/>
<circle cx="2443.5" cy="1053.8" r="6.2" fill="#0000FF"/>
<circle cx="2499.3" cy="1059.5" r="6.2" fill="#0000FF"/>
<polyline points="2108.5,916.6 2164.3,930.7 2220.2,956.0 2276.0,975.7 2331.8,992.0 2387.7,1030.2 2443.5,1053.3 2499.3,1059.5" fill="none" stroke="#7CFC3A" stroke-width="3.2" stroke-linejoin="round"/>
<circle cx="2108.5" cy="916.6" r="6.2" fill="#7CFC3A"/>
<circle cx="2164.3" cy="930.7" r="6.2" fill="#7CFC3A"/>
<circle cx="2220.2" cy="956.0" r="6.2" fill="#7CFC3A"/>
<circle cx="2276.0" cy="975.7" r="6.2" fill="#7CFC3A"/>
<circle cx="2331.8" cy="992.0" r="6.2" fill="#7CFC3A"/>
<circle cx="2387.7" cy="1030.2" r="6.2" fill="#7CFC3A"/>
<circle cx="2443.5" cy="1053.3" r="6.2" fill="#7CFC3A"/>
<circle cx="2499.3" cy="1059.5" r="6.2" fill="#7CFC3A"/>
<polyline points="2108.5,906.5 2164.3,929.0 2220.2,946.4 2276.0,967.2 2331.8,988.0 2387.7,1027.4 2443.5,1050.5 2499.3,1058.3" fill="none" stroke="#708090" stroke-width="3.2" stroke-linejoin="round"/>
<circle cx="2108.5" cy="906.5" r="6.2" fill="#708090"/>
<circle cx="2164.3" cy="929.0" r="6.2" fill="#708090"/>
<circle cx="2220.2" cy="946.4" r="6.2" fill="#708090"/>
<circle cx="2276.0" cy="967.2" r="6.2" fill="#708090"/>
<circle cx="2331.8" cy="988.0" r="6.2" fill="#708090"/>
<circle cx="2387.7" cy="1027.4" r="6.2" fill="#708090"/>
<circle cx="2443.5" cy="1050.5" r="6.2" fill="#708090"/>
<circle cx="2499.3" cy="1058.3" r="6.2" fill="#708090"/>
<polyline points="2108.5,916.6 2164.3,931.8 2220.2,946.4 2276.0,970.1 2331.8,990.9 2387.7,1029.6 2443.5,1052.1 2499.3,1058.9" fill="none" stroke="#000000" stroke-width="3.2" stroke-linejoin="round"/>
<circle cx="2108.5" cy="916.6" r="6.2" fill="#000000"/>
<circle cx="2164.3" cy="931.8" r="6.2" fill="#000000"/>
<circle cx="2220.2" cy="946.4" r="6.2" fill="#000000"/>
<circle cx="2276.0" cy="970.1" r="6.2" fill="#000000"/>
<circle cx="2331.8" cy="990.9" r="6.2" fill="#000000"/>
<circle cx="2387.7" cy="1029.6" r="6.2" fill="#000000"/>
<circle cx="2443.5" cy="1052.1" r="6.2" fill="#000000"/>
<circle cx="2499.3" cy="1058.9" r="6.2" fill="#000000"/>
<polyline points="2108.5,900.3 2164.3,920.0 2220.2,944.7 2276.0,964.4 2331.8,988.6 2387.7,1026.8 2443.5,1050.5 2499.3,1057.8" fill="none" stroke="#B0C4DE" stroke-width="3.2" stroke-linejoin="round"/>
<circle cx="2108.5" cy="900.3" r="6.2" fill="#B0C4DE"/>
<circle cx="2164.3" cy="920.0" r="6.2" fill="#B0C4DE"/>
<circle cx="2220.2" cy="944.7" r="6.2" fill="#B0C4DE"/>
<circle cx="2276.0" cy="964.4" r="6.2" fill="#B0C4DE"/>
<circle cx="2331.8" cy="988.6" r="6.2" fill="#B0C4DE"/>
<circle cx="2387.7" cy="1026.8" r="6.2" fill="#B0C4DE"/>
<circle cx="2443.5" cy="1050.5" r="6.2" fill="#B0C4DE"/>
<circle cx="2499.3" cy="1057.8" r="6.2" fill="#B0C4DE"/>
<polyline points="2108.5,992.5 2164.3,1003.2 2220.2,1013.3 2276.0,1024.0 2331.8,1034.1 2387.7,1050.5 2443.5,1057.8 2499.3,1061.7" fill="none" stroke="#F5DEB3" stroke-width="3.2" stroke-linejoin="round" stroke-dasharray="11 5"/>
<circle cx="2108.5" cy="992.5" r="6.2" fill="#F5DEB3"/>
<circle cx="2164.3" cy="1003.2" r="6.2" fill="#F5DEB3"/>
<circle cx="2220.2" cy="1013.3" r="6.2" fill="#F5DEB3"/>
<circle cx="2276.0" cy="1024.0" r="6.2" fill="#F5DEB3"/>
<circle cx="2331.8" cy="1034.1" r="6.2" fill="#F5DEB3"/>
<circle cx="2387.7" cy="1050.5" r="6.2" fill="#F5DEB3"/>
<circle cx="2443.5" cy="1057.8" r="6.2" fill="#F5DEB3"/>
<circle cx="2499.3" cy="1061.7" r="6.2" fill="#F5DEB3"/>
<line x1="2108.5" y1="864" x2="2108.5" y2="880" stroke="#E0101A" stroke-width="1.5"/>
<rect x="2092.2" y="855.3" width="426.8" height="217.1" fill="none" stroke="#000" stroke-width="1.2"/>
<line x1="2108.5" y1="1072.4" x2="2108.5" y2="1077.4" stroke="#000" stroke-width="1"/>
<line x1="2164.3" y1="1072.4" x2="2164.3" y2="1077.4" stroke="#000" stroke-width="1"/>
<line x1="2220.2" y1="1072.4" x2="2220.2" y2="1077.4" stroke="#000" stroke-width="1"/>
<line x1="2276.0" y1="1072.4" x2="2276.0" y2="1077.4" stroke="#000" stroke-width="1"/>
<line x1="2331.8" y1="1072.4" x2="2331.8" y2="1077.4" stroke="#000" stroke-width="1"/>
<line x1="2387.7" y1="1072.4" x2="2387.7" y2="1077.4" stroke="#000" stroke-width="1"/>
<line x1="2443.5" y1="1072.4" x2="2443.5" y2="1077.4" stroke="#000" stroke-width="1"/>
<line x1="2499.3" y1="1072.4" x2="2499.3" y2="1077.4" stroke="#000" stroke-width="1"/>
<line x1="2087.2" y1="1063.4" x2="2092.2" y2="1063.4" stroke="#000" stroke-width="1"/>
<text x="2083.7" y="1068.9" font-size="16.5" text-anchor="end" fill="#1c1c1c" textLength="30.5" lengthAdjust="spacingAndGlyphs">0.0</text>
<line x1="2087.2" y1="1018.8" x2="2092.2" y2="1018.8" stroke="#000" stroke-width="1"/>
<text x="2083.7" y="1024.3" font-size="16.5" text-anchor="end" fill="#1c1c1c" textLength="30.5" lengthAdjust="spacingAndGlyphs">0.1</text>
<line x1="2087.2" y1="974.3" x2="2092.2" y2="974.3" stroke="#000" stroke-width="1"/>
<text x="2083.7" y="979.8" font-size="16.5" text-anchor="end" fill="#1c1c1c" textLength="30.5" lengthAdjust="spacingAndGlyphs">0.2</text>
<line x1="2087.2" y1="929.7" x2="2092.2" y2="929.7" stroke="#000" stroke-width="1"/>
<text x="2083.7" y="935.2" font-size="16.5" text-anchor="end" fill="#1c1c1c" textLength="30.5" lengthAdjust="spacingAndGlyphs">0.3</text>
<line x1="2087.2" y1="885.1" x2="2092.2" y2="885.1" stroke="#000" stroke-width="1"/>
<text x="2083.7" y="890.6" font-size="16.5" text-anchor="end" fill="#1c1c1c" textLength="30.5" lengthAdjust="spacingAndGlyphs">0.4</text>
<text x="2108.5" y="1092.0" font-size="16.5" text-anchor="middle" fill="#1c1c1c" textLength="36.5" lengthAdjust="spacingAndGlyphs">Low</text>
<text x="2276.1" y="1092.0" font-size="16.5" text-anchor="middle" fill="#1c1c1c" textLength="76" lengthAdjust="spacingAndGlyphs">Medium</text>
<text x="2499.3" y="1092.0" font-size="16.5" text-anchor="middle" fill="#1c1c1c" textLength="43" lengthAdjust="spacingAndGlyphs">High</text>
<text x="2305.6" y="1117.0" font-size="24" text-anchor="middle" fill="#1c1c1c" textLength="390" lengthAdjust="spacingAndGlyphs">Informativeness of node features</text>
<text x="2157.2" y="847.2" fill="#1c1c1c" font-size="24.5" text-anchor="start" textLength="293.5" lengthAdjust="spacingAndGlyphs">Over-robustness <tspan font-weight="400">(</tspan><tspan font-family="'DejaVu Math TeX Gyre','DejaVu Serif',serif" font-style="italic" font-weight="400">ℬ</tspan><tspan font-size="16" dy="5" font-style="italic" font-weight="400">deg</tspan><tspan dy="-5" font-weight="400">)</tspan></text>
<line x1="2533.6" y1="865.5" x2="2558.9" y2="865.5" stroke="#E0101A" stroke-width="2"/>
<line x1="2546.2" y1="857.5" x2="2546.2" y2="873.5" stroke="#E0101A" stroke-width="1.5"/>
<circle cx="2546.2" cy="865.5" r="4" fill="#E0101A"/>
<text x="2571.3" y="871.1" font-size="16.5" text-anchor="start" fill="#1c1c1c" textLength="41" lengthAdjust="spacingAndGlyphs">MLP</text>
<line x1="2533.6" y1="885.1" x2="2558.9" y2="885.1" stroke="#5A9E3C" stroke-width="2"/>
<line x1="2546.2" y1="877.1" x2="2546.2" y2="893.1" stroke="#5A9E3C" stroke-width="1.5"/>
<circle cx="2546.2" cy="885.1" r="4" fill="#5A9E3C"/>
<text x="2571.3" y="890.7" font-size="16.5" text-anchor="start" fill="#1c1c1c" textLength="42" lengthAdjust="spacingAndGlyphs">GCN</text>
<line x1="2533.6" y1="904.8" x2="2558.9" y2="904.8" stroke="#0000FF" stroke-width="2"/>
<line x1="2546.2" y1="896.8" x2="2546.2" y2="912.8" stroke="#0000FF" stroke-width="1.5"/>
<circle cx="2546.2" cy="904.8" r="4" fill="#0000FF"/>
<text x="2571.3" y="910.4" font-size="16.5" text-anchor="start" fill="#1c1c1c" textLength="38" lengthAdjust="spacingAndGlyphs">SGC</text>
<line x1="2533.6" y1="925" x2="2558.9" y2="925" stroke="#7CFC3A" stroke-width="2"/>
<line x1="2546.2" y1="917" x2="2546.2" y2="933" stroke="#7CFC3A" stroke-width="1.5"/>
<circle cx="2546.2" cy="925" r="4" fill="#7CFC3A"/>
<text x="2571.3" y="930.6" font-size="16.5" text-anchor="start" fill="#1c1c1c" textLength="67" lengthAdjust="spacingAndGlyphs">APPNP</text>
<line x1="2533.6" y1="944.7" x2="2558.9" y2="944.7" stroke="#708090" stroke-width="2"/>
<line x1="2546.2" y1="936.7" x2="2546.2" y2="952.7" stroke="#708090" stroke-width="1.5"/>
<circle cx="2546.2" cy="944.7" r="4" fill="#708090"/>
<text x="2571.3" y="950.3" font-size="16.5" text-anchor="start" fill="#1c1c1c" textLength="39" lengthAdjust="spacingAndGlyphs">GAT</text>
<line x1="2533.6" y1="965" x2="2558.9" y2="965" stroke="#000000" stroke-width="2"/>
<line x1="2546.2" y1="957" x2="2546.2" y2="973" stroke="#000000" stroke-width="1.5"/>
<circle cx="2546.2" cy="965" r="4" fill="#000000"/>
<text x="2571.3" y="970.6" font-size="16.5" text-anchor="start" fill="#1c1c1c" textLength="58" lengthAdjust="spacingAndGlyphs">GATv2</text>
<line x1="2533.6" y1="985.2" x2="2558.9" y2="985.2" stroke="#B0C4DE" stroke-width="2"/>
<line x1="2546.2" y1="977.2" x2="2546.2" y2="993.2" stroke="#B0C4DE" stroke-width="1.5"/>
<circle cx="2546.2" cy="985.2" r="4" fill="#B0C4DE"/>
<text x="2571.3" y="990.8" font-size="16.5" text-anchor="start" fill="#1c1c1c" textLength="102" lengthAdjust="spacingAndGlyphs">GraphSAGE</text>
<line x1="2533.6" y1="1004.9" x2="2558.9" y2="1004.9" stroke="#F5DEB3" stroke-width="2" stroke-dasharray="3 3"/>
<line x1="2546.2" y1="996.9" x2="2546.2" y2="1012.9" stroke="#F5DEB3" stroke-width="1.5"/>
<circle cx="2546.2" cy="1004.9" r="4" fill="#F5DEB3"/>
<text x="2571.3" y="1010.5" font-size="16.5" text-anchor="start" fill="#1c1c1c" textLength="23" lengthAdjust="spacingAndGlyphs">LP</text>
<path fill="#3A66BA" d="M2172.2 73.4 H2252.1 V161.6 H2274.6 V73.4 H2376.8 V180.7 H2357.4 V92.8 H2334.8 V180.7 H2316 V92.8 H2294 V180.7 H2233.2 V92.8 H2211.3 V180.7 H2191.9 V92.8 H2172.2 Z"/>
<circle cx="2472.9" cy="126.5" r="54.9" fill="#3A68AE"/>
<text x="2472.9" y="137.3" font-size="29" text-anchor="middle" fill="#fff" stroke="#fff" stroke-width="0.7" textLength="73" lengthAdjust="spacingAndGlyphs" style="font-family:'Liberation Sans',sans-serif;font-weight:400">DAAD</text>
<line x1="2617.1" y1="225.6" x2="2624.7" y2="230.1" stroke="rgb(89,58,142)" stroke-width="1.7" stroke-linecap="round"/>
<line x1="2625.1" y1="223.2" x2="2627.6" y2="229.8" stroke="rgb(89,58,142)" stroke-width="1.7" stroke-linecap="round"/>
<line x1="2633.2" y1="223.7" x2="2628.9" y2="229.8" stroke="rgb(89,58,142)" stroke-width="1.7" stroke-linecap="round"/>
<line x1="2624.7" y1="230.1" x2="2629.8" y2="232.4" stroke="rgb(89,58,142)" stroke-width="1.7" stroke-linecap="round"/>
<line x1="2629.8" y1="232.4" x2="2633.4" y2="231.4" stroke="rgb(89,58,142)" stroke-width="1.7" stroke-linecap="round"/>
<line x1="2601.2" y1="233.2" x2="2614.4" y2="236.6" stroke="rgb(89,58,142)" stroke-width="1.7" stroke-linecap="round"/>
<line x1="2608.6" y1="229.2" x2="2612.7" y2="235.6" stroke="rgb(89,58,142)" stroke-width="1.7" stroke-linecap="round"/>
<line x1="2614.4" y1="236.6" x2="2613.7" y2="247.6" stroke="rgb(89,58,142)" stroke-width="1.7" stroke-linecap="round"/>
<line x1="2614.4" y1="236.6" x2="2623.4" y2="239.9" stroke="rgb(89,58,142)" stroke-width="1.7" stroke-linecap="round"/>
<line x1="2620.8" y1="233.7" x2="2623.4" y2="239.9" stroke="rgb(89,58,142)" stroke-width="1.7" stroke-linecap="round"/>
<line x1="2646.7" y1="228.1" x2="2649.4" y2="236.5" stroke="rgb(89,58,142)" stroke-width="1.7" stroke-linecap="round"/>
<line x1="2651.7" y1="231.8" x2="2649.4" y2="236.5" stroke="rgb(89,58,142)" stroke-width="1.7" stroke-linecap="round"/>
<line x1="2649.4" y1="236.5" x2="2655.4" y2="236.5" stroke="rgb(89,58,142)" stroke-width="1.7" stroke-linecap="round"/>
<line x1="2589.5" y1="249.7" x2="2592.4" y2="254.8" stroke="rgb(156,122,188)" stroke-width="1.7" stroke-linecap="round"/>
<line x1="2587.1" y1="254.8" x2="2592.4" y2="254.8" stroke="rgb(156,122,188)" stroke-width="1.7" stroke-linecap="round"/>
<line x1="2585.8" y1="261.2" x2="2592.6" y2="259.7" stroke="rgb(156,122,188)" stroke-width="1.7" stroke-linecap="round"/>
<line x1="2588.4" y1="275.3" x2="2598.2" y2="274.5" stroke="rgb(140,105,175)" stroke-width="1.7" stroke-linecap="round"/>
<line x1="2598.2" y1="274.5" x2="2600.6" y2="267.4" stroke="rgb(156,122,188)" stroke-width="1.7" stroke-linecap="round"/>
<line x1="2598.2" y1="274.5" x2="2603.7" y2="280.2" stroke="rgb(140,105,175)" stroke-width="1.7" stroke-linecap="round"/>
<line x1="2595.6" y1="270.8" x2="2598.2" y2="274.5" stroke="rgb(140,105,175)" stroke-width="1.7" stroke-linecap="round"/>
<line x1="2608.4" y1="274.9" x2="2611.8" y2="283.6" stroke="rgb(140,105,175)" stroke-width="1.7" stroke-linecap="round"/>
<line x1="2619.4" y1="279.6" x2="2611.8" y2="283.6" stroke="rgb(140,105,175)" stroke-width="1.7" stroke-linecap="round"/>
<line x1="2611.8" y1="283.6" x2="2612.7" y2="297.1" stroke="rgb(140,105,175)" stroke-width="1.7" stroke-linecap="round"/>
<line x1="2603.7" y1="280.2" x2="2597.8" y2="287.7" stroke="rgb(140,105,175)" stroke-width="1.7" stroke-linecap="round"/>
<ellipse cx="2625.1" cy="223.2" rx="2.82" ry="3.22" fill="rgb(89,58,142)"/>
<ellipse cx="2633.2" cy="223.7" rx="2.52" ry="3.53" fill="rgb(89,58,142)"/>
<ellipse cx="2617.1" cy="225.6" rx="2.82" ry="2.82" fill="rgb(89,58,142)"/>
<ellipse cx="2640.7" cy="225.2" rx="2.22" ry="2.82" fill="rgb(89,58,142)"/>
<ellipse cx="2608.6" cy="229.2" rx="3.02" ry="3.22" fill="rgb(89,58,142)"/>
<ellipse cx="2646.7" cy="228.1" rx="1.81" ry="2.52" fill="rgb(89,58,142)"/>
<ellipse cx="2601.2" cy="233.2" rx="3.22" ry="2.82" fill="rgb(89,58,142)"/>
<ellipse cx="2620.8" cy="233.7" rx="2.52" ry="2.52" fill="rgb(89,58,142)"/>
<ellipse cx="2633.4" cy="231.4" rx="2.02" ry="2.22" fill="rgb(89,58,142)"/>
<ellipse cx="2639.3" cy="232.4" rx="1.51" ry="1.81" fill="rgb(89,58,142)"/>
<ellipse cx="2644.7" cy="234.6" rx="1.41" ry="1.61" fill="rgb(89,58,142)"/>
<ellipse cx="2651.7" cy="231.8" rx="1.61" ry="2.02" fill="rgb(89,58,142)"/>
<ellipse cx="2655.4" cy="236.5" rx="1.41" ry="1.81" fill="rgb(89,58,142)"/>
<ellipse cx="2659.0" cy="240.1" rx="1.01" ry="1.41" fill="rgb(89,58,142)"/>
<ellipse cx="2661.2" cy="242.9" rx="0.81" ry="1.01" fill="rgb(89,58,142)"/>
<ellipse cx="2597.2" cy="240.1" rx="3.83" ry="3.53" fill="rgb(89,58,142)"/>
<ellipse cx="2628.8" cy="238.9" rx="1.61" ry="1.81" fill="rgb(89,58,142)"/>
<ellipse cx="2633.6" cy="237.5" rx="1.21" ry="1.21" fill="rgb(89,58,142)"/>
<ellipse cx="2638.6" cy="237.5" rx="1.31" ry="1.31" fill="rgb(89,58,142)"/>
<ellipse cx="2606.9" cy="244.6" rx="2.82" ry="2.52" fill="rgb(89,58,142)"/>
<ellipse cx="2619.7" cy="244.0" rx="2.22" ry="2.22" fill="rgb(89,58,142)"/>
<ellipse cx="2613.7" cy="247.6" rx="1.81" ry="2.22" fill="rgb(156,122,188)"/>
<ellipse cx="2597.2" cy="248.9" rx="3.53" ry="3.02" fill="rgb(156,122,188)"/>
<ellipse cx="2623.4" cy="239.9" rx="2.02" ry="2.02" fill="rgb(89,58,142)"/>
<ellipse cx="2590.8" cy="244.8" rx="1.21" ry="1.01" fill="rgb(89,58,142)"/>
<ellipse cx="2589.5" cy="249.7" rx="1.81" ry="1.41" fill="rgb(156,122,188)"/>
<ellipse cx="2592.4" cy="241.8" rx="0.81" ry="0.81" fill="rgb(89,58,142)"/>
<ellipse cx="2587.1" cy="254.8" rx="2.22" ry="1.41" fill="rgb(156,122,188)"/>
<ellipse cx="2592.4" cy="254.8" rx="1.51" ry="1.01" fill="rgb(156,122,188)"/>
<ellipse cx="2585.8" cy="261.2" rx="2.52" ry="1.81" fill="rgb(156,122,188)"/>
<ellipse cx="2592.6" cy="259.7" rx="1.61" ry="1.21" fill="rgb(156,122,188)"/>
<ellipse cx="2586.1" cy="268.5" rx="2.82" ry="2.22" fill="rgb(156,122,188)"/>
<ellipse cx="2592.9" cy="265.3" rx="1.81" ry="1.41" fill="rgb(156,122,188)"/>
<ellipse cx="2598.4" cy="263.4" rx="1.41" ry="1.21" fill="rgb(156,122,188)"/>
<ellipse cx="2595.6" cy="270.8" rx="2.22" ry="1.81" fill="rgb(156,122,188)"/>
<ellipse cx="2600.6" cy="267.4" rx="1.61" ry="1.41" fill="rgb(156,122,188)"/>
<ellipse cx="2604.2" cy="271.1" rx="1.61" ry="1.41" fill="rgb(156,122,188)"/>
<ellipse cx="2588.4" cy="275.3" rx="3.02" ry="2.52" fill="rgb(140,105,175)"/>
<ellipse cx="2592.4" cy="280.9" rx="3.22" ry="3.83" fill="rgb(140,105,175)"/>
<ellipse cx="2598.2" cy="274.5" rx="2.02" ry="2.02" fill="rgb(140,105,175)"/>
<ellipse cx="2603.7" cy="280.2" rx="2.52" ry="2.82" fill="rgb(140,105,175)"/>
<ellipse cx="2597.8" cy="287.7" rx="3.02" ry="3.53" fill="rgb(140,105,175)"/>
<ellipse cx="2608.4" cy="274.9" rx="1.81" ry="2.02" fill="rgb(140,105,175)"/>
<ellipse cx="2613.4" cy="276.6" rx="1.81" ry="1.81" fill="rgb(140,105,175)"/>
<ellipse cx="2619.4" cy="279.6" rx="2.02" ry="2.02" fill="rgb(140,105,175)"/>
<ellipse cx="2605.4" cy="293.3" rx="3.53" ry="4.03" fill="rgb(140,105,175)"/>
<ellipse cx="2612.7" cy="297.1" rx="3.53" ry="4.23" fill="rgb(140,105,175)"/>
<ellipse cx="2620.0" cy="287.3" rx="2.52" ry="2.82" fill="rgb(140,105,175)"/>
<ellipse cx="2620.8" cy="297.8" rx="3.22" ry="4.03" fill="rgb(140,105,175)"/>
<ellipse cx="2628.5" cy="293.7" rx="3.02" ry="3.83" fill="rgb(140,105,175)"/>
<clipPath id="cpc"><circle cx="1657.9" cy="1307.1" r="137.0"/></clipPath>
<clipPath id="cpuA" clip-path="url(#cpc)"><path d="M1400 1000 L1900 1000 L1900 1352.9 L1400 1157.9 Z"/></clipPath>
<clipPath id="cpuB" clip-path="url(#cpuA)"><path d="M1570.7 1136.3 C1579.9 1142.3 1611.0 1160.8 1625.7 1172.6 C1640.4 1184.4 1649.1 1195.4 1658.9 1207.1 C1668.7 1218.8 1677.8 1231.8 1684.5 1242.9 C1691.2 1254.0 1694.8 1262.5 1699.3 1273.6 C1703.8 1284.7 1708.0 1297.1 1711.3 1309.4 C1714.6 1321.8 1717.1 1334.1 1719.0 1347.7 C1720.9 1361.3 1722.2 1377.6 1722.8 1391.2 C1723.4 1404.8 1723.3 1416.7 1722.8 1429.5 C1722.3 1442.3 1720.3 1461.4 1719.8 1467.8 L1400 1480 L1400 1100 Z"/></clipPath>
<clipPath id="cplA" clip-path="url(#cpc)"><path d="M1400 1500 L1900 1500 L1900 1352.9 L1400 1157.9 Z"/></clipPath>
<clipPath id="cplB" clip-path="url(#cplA)"><path d="M1570.7 1136.3 C1579.9 1142.3 1611.0 1160.8 1625.7 1172.6 C1640.4 1184.4 1649.1 1195.4 1658.9 1207.1 C1668.7 1218.8 1677.8 1231.8 1684.5 1242.9 C1691.2 1254.0 1694.8 1262.5 1699.3 1273.6 C1703.8 1284.7 1708.0 1297.1 1711.3 1309.4 C1714.6 1321.8 1717.1 1334.1 1719.0 1347.7 C1720.9 1361.3 1722.2 1377.6 1722.8 1391.2 C1723.4 1404.8 1723.3 1416.7 1722.8 1429.5 C1722.3 1442.3 1720.3 1461.4 1719.8 1467.8 L1900 1480 L1900 1100 Z"/></clipPath>
<path d="M1299.3 1500 L1699.3 1100 M1321.8 1500 L1721.8 1100 M1344.3 1500 L1744.3 1100 M1366.8 1500 L1766.8 1100 M1389.3 1500 L1789.3 1100 M1411.8 1500 L1811.8 1100 M1434.3 1500 L1834.3 1100 M1456.8 1500 L1856.8 1100 M1479.3 1500 L1879.3 1100 M1501.8 1500 L1901.8 1100 M1524.3 1500 L1924.3 1100 M1546.8 1500 L1946.8 1100 M1569.3 1500 L1969.3 1100 M1591.8 1500 L1991.8 1100 M1614.3 1500 L2014.3 1100 M1636.8 1500 L2036.8 1100 M1659.3 1500 L2059.3 1100 M1681.8 1500 L2081.8 1100 M1704.3 1500 L2104.3 1100 M1726.8 1500 L2126.8 1100 M1749.3 1500 L2149.3 1100 M1771.8 1500 L2171.8 1100 M1794.3 1500 L2194.3 1100 M1816.8 1500 L2216.8 1100 M1839.3 1500 L2239.3 1100 M1861.8 1500 L2261.8 1100 M1884.3 1500 L2284.3 1100" stroke="#000" stroke-width="1.35" stroke-dasharray="7.2 4.6" fill="none" clip-path="url(#cpuB)"/>
<path d="M1299.3 1500 L1699.3 1100 M1321.8 1500 L1721.8 1100 M1344.3 1500 L1744.3 1100 M1366.8 1500 L1766.8 1100 M1389.3 1500 L1789.3 1100 M1411.8 1500 L1811.8 1100 M1434.3 1500 L1834.3 1100 M1456.8 1500 L1856.8 1100 M1479.3 1500 L1879.3 1100 M1501.8 1500 L1901.8 1100 M1524.3 1500 L1924.3 1100 M1546.8 1500 L1946.8 1100 M1569.3 1500 L1969.3 1100 M1591.8 1500 L1991.8 1100 M1614.3 1500 L2014.3 1100 M1636.8 1500 L2036.8 1100 M1659.3 1500 L2059.3 1100 M1681.8 1500 L2081.8 1100 M1704.3 1500 L2104.3 1100 M1726.8 1500 L2126.8 1100 M1749.3 1500 L2149.3 1100 M1771.8 1500 L2171.8 1100 M1794.3 1500 L2194.3 1100 M1816.8 1500 L2216.8 1100 M1839.3 1500 L2239.3 1100 M1861.8 1500 L2261.8 1100 M1884.3 1500 L2284.3 1100" stroke="#000" stroke-width="1.35" stroke-dasharray="7.2 4.6" fill="none" clip-path="url(#cplB)"/>
<circle cx="1657.9" cy="1307.1" r="137.0" fill="none" stroke="#000" stroke-width="2.3"/>
<line x1="1496.6" y1="1195.6" x2="1844.2" y2="1331.1" stroke="#000" stroke-width="3.3" stroke-dasharray="3.1 12"/>
<path d="M1570.7 1136.3 C1579.9 1142.3 1611.0 1160.8 1625.7 1172.6 C1640.4 1184.4 1649.1 1195.4 1658.9 1207.1 C1668.7 1218.8 1677.8 1231.8 1684.5 1242.9 C1691.2 1254.0 1694.8 1262.5 1699.3 1273.6 C1703.8 1284.7 1708.0 1297.1 1711.3 1309.4 C1714.6 1321.8 1717.1 1334.1 1719.0 1347.7 C1720.9 1361.3 1722.2 1377.6 1722.8 1391.2 C1723.4 1404.8 1723.3 1416.7 1722.8 1429.5 C1722.3 1442.3 1720.3 1461.4 1719.8 1467.8" fill="none" stroke="#000" stroke-width="6"/>
<circle cx="1657.8" cy="1307.1" r="25.2" fill="#DCE6F9" stroke="#8FA5D6" stroke-width="0.9"/>
<text x="1622.6" y="1136.0" font-size="25.5" text-anchor="middle" style="font-family:'Liberation Sans',sans-serif;font-weight:400">g</text>
<text x="1536.5" y="1195.6" font-size="25" text-anchor="middle" style="font-family:'Liberation Sans',sans-serif;font-weight:400">f</text>
<text x="1588.2" y="1407" font-size="25.5" text-anchor="start" style="font-family:'Liberation Sans',sans-serif;font-weight:400">B(<tspan dx="11.5">)</tspan></text>
<circle cx="1619.3" cy="1400.1" r="6.2" fill="#DCE6F9" stroke="#8FA5D6" stroke-width="0.9"/>
</svg>
<div class="t" style="left:69.6px;top:65.6px;font-size:27.6px;color:#3A66B8;letter-spacing:-0.261px;">Data Analytics and Machine Learning Group</div>
<div class="t" style="left:69.6px;top:98.2px;font-size:27.6px;color:#3A66B8;letter-spacing:-0.035px;">Department of Computer Science</div>
<div class="t" style="left:69.6px;top:132.8px;font-size:27.6px;color:#3A66B8;letter-spacing:-0.126px;">Technical University of Munich</div>
<div class="t" style="left:804.4px;top:104.6px;font-size:54.5px;color:#000;transform:scaleX(0.9824);transform-origin:0 0;-webkit-text-stroke:0.8px #000;">Revisiting Robustness in Graph Machine Learning</div>
<div class="t" style="left:922.5px;top:191.5px;font-size:33.7px;color:#1a1a1a;letter-spacing:0.192px;">Lukas Gosch, Daniel Sturm, Simon Geisler, Stephan Günnemann</div>
<div class="t" style="left:88.4px;top:286.0px;font-size:35.2px;color:#fff;word-spacing:6.393px;transform:scaleX(0.9250);transform-origin:0 0;-webkit-text-stroke:0.35px #3C64BE;">TL;DR: Graph Neural Networks (GNNs) suffer from</div>
<div class="t" style="left:88.4px;top:329.0px;font-size:35.2px;color:#fff;font-weight:700;transform:scaleX(0.9067);transform-origin:0 0;">over-robustness</div>
<div class="t" style="left:123.0px;top:390.0px;font-size:35.2px;color:#fff;word-spacing:5.106px;transform:scaleX(0.9250);transform-origin:0 0;-webkit-text-stroke:0.35px #3C64BE;">Common threat models allow perturbations which</div>
<div class="t" style="left:123.0px;top:433.0px;font-size:35.2px;color:#fff;transform:scaleX(0.9050);transform-origin:0 0;-webkit-text-stroke:0.35px #3C64BE;">change the (node-level) semantic content in graphs</div>
<div class="t" style="left:123.0px;top:486.5px;font-size:35.2px;color:#fff;word-spacing:2.622px;transform:scaleX(0.9250);transform-origin:0 0;-webkit-text-stroke:0.35px #3C64BE;">GNNs show over-robustness to these graphs; that</div>
<div class="t" style="left:123.0px;top:529.5px;font-size:35.2px;color:#fff;transform:scaleX(0.8820);transform-origin:0 0;-webkit-text-stroke:0.35px #3C64BE;">is robustness <i>beyond</i> semantic content change</div>
<div class="t" style="left:123.0px;top:583.0px;font-size:35.2px;color:#fff;transform:scaleX(0.9077);transform-origin:0 0;-webkit-text-stroke:0.35px #3C64BE;">Introduce semantic-aware notions of robustness</div>
<div class="t" style="left:123.0px;top:638.0px;font-size:35.2px;color:#fff;word-spacing:3.588px;transform:scaleX(0.9250);transform-origin:0 0;-webkit-text-stroke:0.35px #3C64BE;">Up to 40% of conventional adversarial robustness</div>
<div class="t" style="left:123.0px;top:681.5px;font-size:35.2px;color:#fff;transform:scaleX(0.9158);transform-origin:0 0;-webkit-text-stroke:0.35px #3C64BE;">turns out to be over-robustness.</div>
<div class="t" style="left:59.0px;top:1538.0px;font-size:32.0px;color:#fff;letter-spacing:-1.138px;">NeurIPS 2022</div>
<div class="t" style="left:869.4px;top:1537.7px;font-size:30.5px;color:#fff;">Trustworthy and Socially Responsible Machine Learning (TSRML) Workshop</div>
<div class="t" style="left:2322.2px;top:1538.4px;font-size:31.0px;color:#fff;letter-spacing:-0.073px;">Nov 28<sup class="up">th</sup> - Dec 9<sup class="up">th</sup>, New Orleans</div>
<div class="t" style="left:70.0px;top:758.6px;font-size:42.5px;color:#000;font-weight:700;transform:scaleX(1.0648);transform-origin:0 0;-webkit-text-stroke:0.7px #000;">Adversarial examples</div>
<div class="t" style="left:107.4px;top:821.0px;font-size:30.0px;color:#000;letter-spacing:0.860px;">Small perturbations (<span class="m" style="font-size:108%">ℓ</span><sub class="m msub">p</sub>-norm)</div>
<div class="t" style="left:107.4px;top:858.0px;font-size:30.0px;color:#000;letter-spacing:0.709px;">Changes prediction of classifer <span class="m" style="font-size:112%">f</span></div>
<div class="t" style="left:107.4px;top:899.6px;font-size:30.0px;color:#000;letter-spacing:0.466px;">Unchanged semantic content (e.g., image category)</div>
<div class="t" style="left:107.4px;top:954.5px;font-size:30.0px;color:#000;font-style:italic;letter-spacing:0.691px;">What constitutes a small, semantics-preserving</div>
<div class="t" style="left:107.4px;top:993.0px;font-size:30.0px;color:#000;font-style:italic;letter-spacing:0.485px;">perturbation to a graph?</div>
<div class="t" style="left:73.6px;top:1046.3px;font-size:30.0px;color:#000;letter-spacing:1.087px;">Commonly:</div>
<div class="t" style="left:109.9px;top:1083.5px;font-size:30.0px;color:#000;letter-spacing:0.587px;"><b>Restrict number of inserted / deleted edges</b> (<span class="m" style="font-size:108%">ℓ</span><sub class="m msub">0</sub>-norm)</div>
<div class="t" style="left:123.0px;top:1416.3px;font-size:29.5px;color:#000;transform:scaleX(0.9668);transform-origin:0 0;-webkit-text-stroke:0.55px #000;">Small degree of nodes <span class="ar2">→</span> <b>Large</b> change to neighorhood</div>
<div class="t" style="left:1011.2px;top:304.4px;font-size:30.0px;color:#000;font-style:italic;letter-spacing:0.699px;">Do common threat models preserve semantic content?</div>
<div class="t" style="left:951.7px;top:392.4px;font-size:30.0px;color:#000;font-weight:700;letter-spacing:0.419px;">Contextual Stochastic Block Models:</div>
<div class="t" style="left:951.7px;top:431.1px;font-size:30.0px;color:#000;letter-spacing:0.471px;">⇒ Exactly measure (node-level) semantic change</div>
<div class="t" style="left:951.7px;top:489.6px;font-size:30.0px;color:#000;font-weight:700;letter-spacing:0.435px;">New Phenomenon:</div>
<div class="t" style="left:988.0px;top:527.8px;font-size:30.0px;color:#000;letter-spacing:0.381px;"><b>Over-robustness:</b> Robustness <i>beyond</i> semantic change</div>
<div class="t" style="left:951.8px;top:926.3px;font-size:42.5px;color:#000;font-weight:700;transform:scaleX(1.0723);transform-origin:0 0;-webkit-text-stroke:0.7px #000;">Semantic-aware adversarial robustness</div>
<div class="t" style="left:951.8px;top:994.8px;font-size:30.0px;color:#000;font-weight:700;letter-spacing:0.442px;">Idea:</div>
<div class="t" style="left:987.7px;top:1031.1px;font-size:30.0px;color:#000;letter-spacing:0.540px;">Use reference node classifier <span class="m" style="font-size:112%">g</span> to indicate semantic change</div>
<div class="t" style="left:951.8px;top:1102.2px;font-size:30.0px;color:#5578CC;font-weight:700;letter-spacing:0.398px;">Adversarial example</div>
<div class="t" style="left:989.1px;top:1141.4px;font-size:30.0px;color:#000;letter-spacing:0.565px;">Perturbation preserves semantics</div>
<div class="t" style="left:990.5px;top:1180.8px;font-size:28.0px;color:#000;">•</div>
<div class="t" style="left:1025.6px;top:1177.8px;font-size:28.0px;color:#000;letter-spacing:0.577px;"><span class="ar">⇔</span> <span class="m" style="font-size:112%">g</span> does not change prediction</div>
<div class="t" style="left:989.1px;top:1219.4px;font-size:30.0px;color:#000;letter-spacing:0.538px;">Node classifer <span class="m" style="font-size:112%">f</span>&nbsp; changes prediction</div>
<div class="t" style="left:951.8px;top:1302.0px;font-size:30.0px;color:#5578CC;font-weight:700;letter-spacing:0.388px;">Over-robust example</div>
<div class="t" style="left:987.7px;top:1341.3px;font-size:30.0px;color:#000;letter-spacing:0.573px;">Perturbation changes semantics</div>
<div class="t" style="left:988.8px;top:1381.1px;font-size:28.0px;color:#000;">•</div>
<div class="t" style="left:1023.6px;top:1378.1px;font-size:28.0px;color:#000;letter-spacing:0.586px;"><span class="ar">⇔</span> <span class="m" style="font-size:112%">g</span> does change prediction</div>
<div class="t" style="left:987.7px;top:1419.3px;font-size:30.0px;color:#000;letter-spacing:0.407px;">Node classifer <span class="m" style="font-size:112%">f</span>&nbsp; stays unchanged</div>
<div class="t" style="left:1910.3px;top:291.4px;font-size:43.0px;color:#000;font-weight:700;transform:scaleX(1.0410);transform-origin:0 0;-webkit-text-stroke:0.7px #000;">Experiments</div>
<div class="t" style="left:1908.0px;top:367.8px;font-size:30.0px;color:#000;letter-spacing:0.498px;">For a <b>large share</b> of target nodes, common perturbation models</div>
<div class="t" style="left:1908.0px;top:406.4px;font-size:30.0px;color:#000;letter-spacing:0.522px;">include <b>graphs with changed semantic</b> content.</div>
<div class="t" style="left:1912.2px;top:752.6px;font-size:30.0px;color:#000;letter-spacing:0.488px;">⇒ <b>High prevalence</b> of graphs with changed semantics</div>
<div class="t" style="left:1911.7px;top:1170.0px;font-size:30.0px;color:#000;letter-spacing:0.526px;">⇒ <b>Signficant amounts</b> of conventional adversarial</div>
<div class="t" style="left:1911.7px;top:1208.2px;font-size:30.0px;color:#000;letter-spacing:0.334px;">robustness are in fact <b>over-robustness</b></div>
<div class="t" style="left:1907.2px;top:1272.9px;font-size:30.0px;color:#5578CC;font-weight:700;letter-spacing:0.220px;">Take-aways</div>
<div class="t" style="left:1943.8px;top:1315.0px;font-size:30.0px;color:#000;letter-spacing:0.398px;">Use strong attacks</div>
<div class="t" style="left:1943.8px;top:1355.5px;font-size:30.0px;color:#000;letter-spacing:-0.424px;"><span style="margin-right:-0.12em">→</span> good proxy for semantic-aware adversarial robustness</div>
<div class="t" style="left:1943.8px;top:1393.4px;font-size:30.0px;color:#000;letter-spacing:0.602px;">Be cautions in applying <span class="m" style="font-size:108%">ℓ</span><sub class="m msub">0</sub>-norm restricted adversaries</div>
<div class="t" style="left:1943.8px;top:1436.5px;font-size:30.0px;color:#000;letter-spacing:0.609px;">Need for research into semantic-preserving perturbations</div>
<div class="t" style="left:2059.2px;top:472.3px;font-size:27.0px;color:#000;font-weight:700;letter-spacing:-0.062px;">Informativeness of node features</div>
<div class="t" style="left:2034.8px;top:507.0px;font-size:26.0px;color:#000;letter-spacing:-0.452px;">Low</div>
<div class="t" style="left:2230.5px;top:507.0px;font-size:26.0px;color:#000;letter-spacing:0.143px;">Medium</div>
<div class="t" style="left:2451.7px;top:507.0px;font-size:26.0px;color:#000;letter-spacing:-0.028px;">High</div>
<div class="t" style="left:1909.5px;top:552.5px;font-size:26.0px;color:#000;letter-spacing:1.109px;"><span class="cal">ℬ</span><sub class="tsub">1</sub>(·)</div>
<div class="t" style="left:2034.8px;top:552.5px;font-size:26.0px;color:#000;letter-spacing:-0.636px;">14.3</div>
<div class="t" style="left:2097.5px;top:552.5px;font-size:26.0px;color:#000;">11.2</div>
<div class="t" style="left:2173.2px;top:552.5px;font-size:26.0px;color:#000;letter-spacing:-0.678px;">9.1</div>
<div class="t" style="left:2235.9px;top:552.5px;font-size:26.0px;color:#000;letter-spacing:-0.678px;">6.8</div>
<div class="t" style="left:2297.8px;top:552.5px;font-size:26.0px;color:#000;letter-spacing:-0.678px;">4.4</div>
<div class="t" style="left:2360.8px;top:552.5px;font-size:26.0px;color:#000;letter-spacing:-0.678px;">1.9</div>
<div class="t" style="left:2423.1px;top:552.5px;font-size:26.0px;color:#000;letter-spacing:-0.678px;">0.8</div>
<div class="t" style="left:2470.3px;top:552.5px;font-size:26.0px;color:#000;letter-spacing:-0.678px;">0.2</div>
<div class="t" style="left:1909.5px;top:587.7px;font-size:26.0px;color:#000;letter-spacing:1.109px;"><span class="cal">ℬ</span><sub class="tsub">2</sub>(·)</div>
<div class="t" style="left:2034.8px;top:587.7px;font-size:26.0px;color:#000;letter-spacing:-0.636px;">35.9</div>
<div class="t" style="left:2097.5px;top:587.7px;font-size:26.0px;color:#000;letter-spacing:-0.636px;">31.2</div>
<div class="t" style="left:2159.3px;top:587.7px;font-size:26.0px;color:#000;letter-spacing:-0.636px;">25.7</div>
<div class="t" style="left:2222.0px;top:587.7px;font-size:26.0px;color:#000;letter-spacing:-0.636px;">19.8</div>
<div class="t" style="left:2283.9px;top:587.7px;font-size:26.0px;color:#000;letter-spacing:-0.636px;">14.1</div>
<div class="t" style="left:2360.8px;top:587.7px;font-size:26.0px;color:#000;letter-spacing:-0.678px;">6.2</div>
<div class="t" style="left:2423.1px;top:587.7px;font-size:26.0px;color:#000;letter-spacing:-0.678px;">2.2</div>
<div class="t" style="left:2470.3px;top:587.7px;font-size:26.0px;color:#000;letter-spacing:-0.678px;">0.7</div>
<div class="t" style="left:1909.5px;top:623.3px;font-size:26.0px;color:#000;letter-spacing:1.109px;"><span class="cal">ℬ</span><sub class="tsub">3</sub>(·)</div>
<div class="t" style="left:2034.8px;top:623.3px;font-size:26.0px;color:#000;letter-spacing:-0.636px;">58.5</div>
<div class="t" style="left:2097.5px;top:623.3px;font-size:26.0px;color:#000;letter-spacing:-0.636px;">53.8</div>
<div class="t" style="left:2159.3px;top:623.3px;font-size:26.0px;color:#000;letter-spacing:-0.636px;">46.8</div>
<div class="t" style="left:2222.0px;top:623.3px;font-size:26.0px;color:#000;letter-spacing:-0.636px;">38.2</div>
<div class="t" style="left:2283.9px;top:623.3px;font-size:26.0px;color:#000;letter-spacing:-0.636px;">28.8</div>
<div class="t" style="left:2346.9px;top:623.3px;font-size:26.0px;color:#000;letter-spacing:-0.636px;">14.3</div>
<div class="t" style="left:2423.1px;top:623.3px;font-size:26.0px;color:#000;letter-spacing:-0.678px;">5.1</div>
<div class="t" style="left:2470.3px;top:623.3px;font-size:26.0px;color:#000;letter-spacing:-0.678px;">1.7</div>
<div class="t" style="left:1909.5px;top:658.1px;font-size:26.0px;color:#000;letter-spacing:0.900px;"><span class="cal">ℬ</span><sub class="tsub">deg</sub>(·)</div>
<div class="t" style="left:2034.8px;top:658.1px;font-size:26.0px;color:#000;letter-spacing:-0.636px;">75.7</div>
<div class="t" style="left:2097.5px;top:658.1px;font-size:26.0px;color:#000;letter-spacing:-0.636px;">60.0</div>
<div class="t" style="left:2159.3px;top:658.1px;font-size:26.0px;color:#000;letter-spacing:-0.636px;">55.4</div>
<div class="t" style="left:2222.0px;top:658.1px;font-size:26.0px;color:#000;letter-spacing:-0.636px;">49.1</div>
<div class="t" style="left:2283.9px;top:658.1px;font-size:26.0px;color:#000;letter-spacing:-0.636px;">39.6</div>
<div class="t" style="left:2346.9px;top:658.1px;font-size:26.0px;color:#000;letter-spacing:-0.636px;">21.9</div>
<div class="t" style="left:2423.1px;top:658.1px;font-size:26.0px;color:#000;letter-spacing:-0.678px;">9.0</div>
<div class="t" style="left:2470.3px;top:658.1px;font-size:26.0px;color:#000;letter-spacing:-0.678px;">3.2</div>
<div class="t" style="left:1909.5px;top:693.3px;font-size:26.0px;color:#000;letter-spacing:1.571px;"><span class="cal">ℬ</span><sub class="tsub">deg+2</sub>(·)</div>
<div class="t" style="left:2038.7px;top:693.3px;font-size:26.0px;color:#000;letter-spacing:-1.195px;">100</div>
<div class="t" style="left:2101.3px;top:693.3px;font-size:26.0px;color:#000;letter-spacing:-1.195px;">100</div>
<div class="t" style="left:2159.3px;top:693.3px;font-size:26.0px;color:#000;letter-spacing:-0.636px;">99.4</div>
<div class="t" style="left:2222.0px;top:693.3px;font-size:26.0px;color:#000;letter-spacing:-0.636px;">92.9</div>
<div class="t" style="left:2283.9px;top:693.3px;font-size:26.0px;color:#000;letter-spacing:-0.636px;">80.5</div>
<div class="t" style="left:2346.9px;top:693.3px;font-size:26.0px;color:#000;letter-spacing:-0.636px;">51.7</div>
<div class="t" style="left:2409.2px;top:693.3px;font-size:26.0px;color:#000;letter-spacing:-0.636px;">24.8</div>
<div class="t" style="left:2470.3px;top:693.3px;font-size:26.0px;color:#000;letter-spacing:-0.678px;">9.1</div>
<div class="t" style="left:2554.5px;top:578.8px;font-size:21.5px;color:#000;letter-spacing:1.041px;"><span class="cal">ℬ</span><sub class="tsub" style="font-size:60%">Δ</sub>(·): Perturbation</div>
<div class="t" style="left:2556.2px;top:607.8px;font-size:21.5px;color:#000;letter-spacing:0.660px;">set, allowing Δ edge</div>
<div class="t" style="left:2556.2px;top:636.0px;font-size:21.5px;color:#000;letter-spacing:0.767px;">changes</div>
<div class="t" style="left:2542.3px;top:82.6px;font-size:42.5px;color:#222;letter-spacing:-2.582px;-webkit-text-stroke:1.1px #fff;">Zuse Schools</div>
<div class="t" style="left:2542.3px;top:135.4px;font-size:15.2px;color:#333;letter-spacing:-0.208px;-webkit-text-stroke-width:0.15px;">Konrad Zuse Schools of Excellence</div>
<div class="t" style="left:2542.3px;top:154.5px;font-size:15.2px;color:#333;letter-spacing:0.187px;-webkit-text-stroke-width:0.15px;">in Artificial Intelligence</div>
<div class="t" style="left:2622.5px;top:249.4px;font-size:12.4px;color:#3A3A44;letter-spacing:0.749px;-webkit-text-stroke:0.3px #3A3A44;">NEURAL INFORMATION</div>
<div class="t" style="left:2622.5px;top:263.2px;font-size:12.4px;color:#3A3A44;letter-spacing:0.383px;-webkit-text-stroke:0.3px #3A3A44;">PROCESSING SYSTEMS</div>
</body></html>
